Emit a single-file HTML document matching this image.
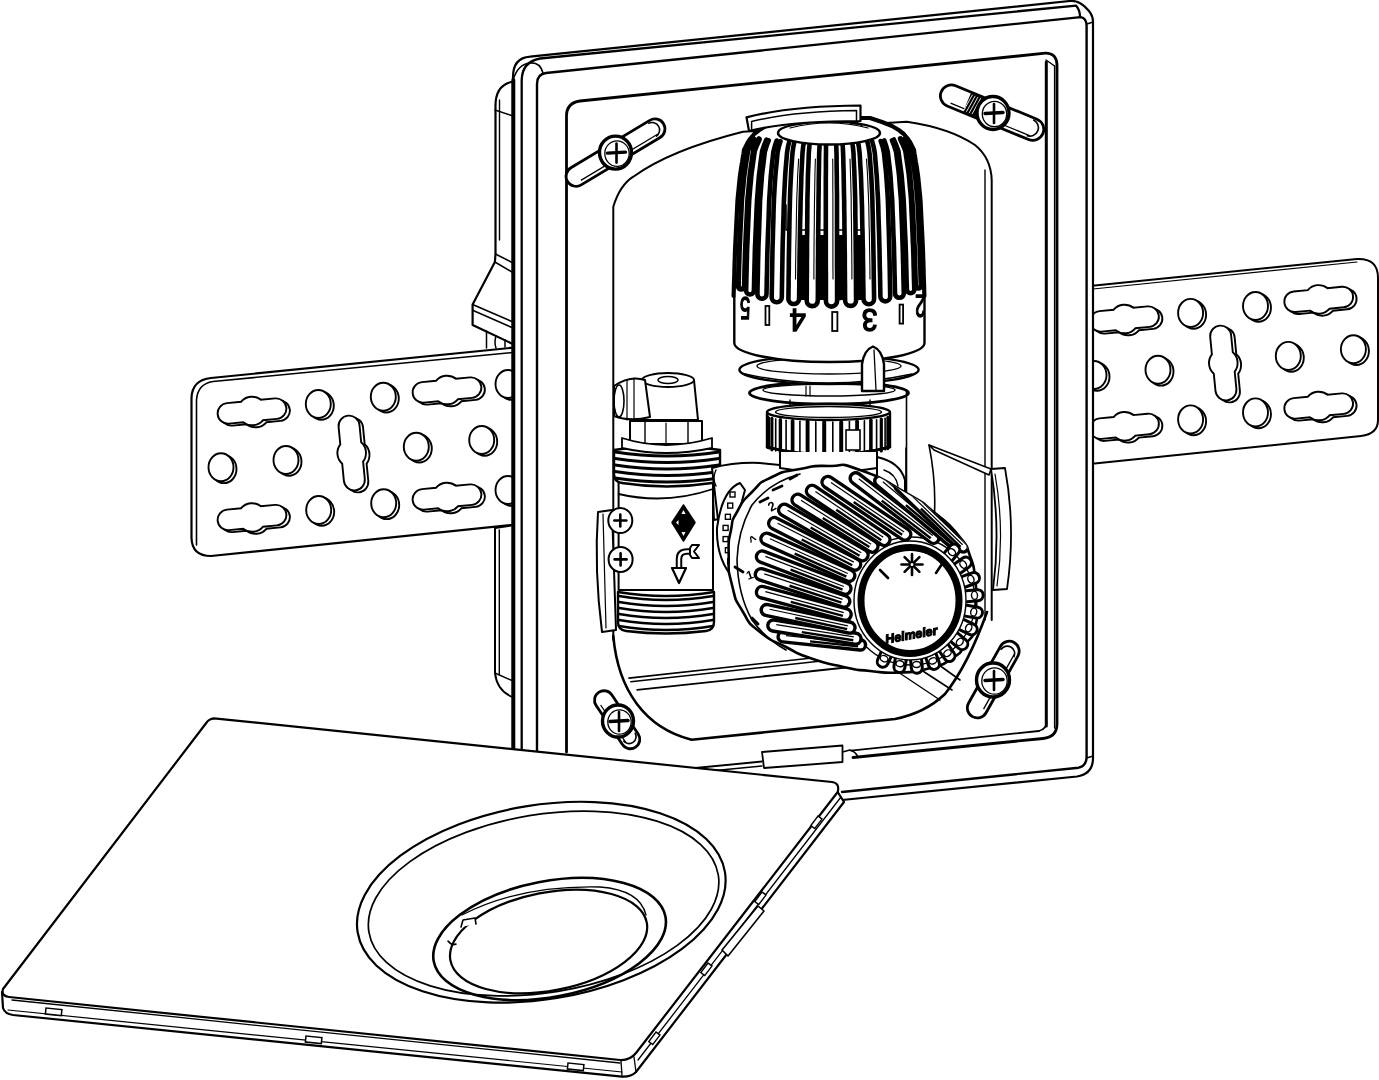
<!DOCTYPE html>
<html><head><meta charset="utf-8"><style>html,body{margin:0;padding:0;background:#fff;overflow:hidden}svg{display:block;will-change:transform}</style></head><body><svg width="1379" height="1080" viewBox="0 0 1379 1080"><path d="M530,346 L211,378 Q192,380 191.5,398 L191.5,538 Q192,556 211,556 L530,523 Z" fill="#fff" stroke="#000" stroke-width="2.2" stroke-linejoin="round" stroke-linecap="round" />
<path d="M513,352.5 L213,381.5 Q197.5,384 196.5,400 L196.5,545" fill="none" stroke="#000" stroke-width="1.6" stroke-linejoin="round" stroke-linecap="round" />
<ellipse cx="321.3" cy="405.8" rx="12.5" ry="14.0" fill="#fff" stroke="#000" stroke-width="1.9"/>
<ellipse cx="318.3" cy="404.0" rx="12.5" ry="14.0" fill="#fff" stroke="#000" stroke-width="1.9"/>
<ellipse cx="386.3" cy="398.5" rx="12.5" ry="14.0" fill="#fff" stroke="#000" stroke-width="1.9"/>
<ellipse cx="383.3" cy="396.7" rx="12.5" ry="14.0" fill="#fff" stroke="#000" stroke-width="1.9"/>
<ellipse cx="224.0" cy="469.1" rx="12.5" ry="14.0" fill="#fff" stroke="#000" stroke-width="1.9"/>
<ellipse cx="221.0" cy="467.3" rx="12.5" ry="14.0" fill="#fff" stroke="#000" stroke-width="1.9"/>
<ellipse cx="289.0" cy="461.8" rx="12.5" ry="14.0" fill="#fff" stroke="#000" stroke-width="1.9"/>
<ellipse cx="286.0" cy="460.0" rx="12.5" ry="14.0" fill="#fff" stroke="#000" stroke-width="1.9"/>
<ellipse cx="419.3" cy="448.5" rx="12.5" ry="14.0" fill="#fff" stroke="#000" stroke-width="1.9"/>
<ellipse cx="416.3" cy="446.7" rx="12.5" ry="14.0" fill="#fff" stroke="#000" stroke-width="1.9"/>
<ellipse cx="484.7" cy="441.8" rx="12.5" ry="14.0" fill="#fff" stroke="#000" stroke-width="1.9"/>
<ellipse cx="481.7" cy="440.0" rx="12.5" ry="14.0" fill="#fff" stroke="#000" stroke-width="1.9"/>
<ellipse cx="321.7" cy="511.8" rx="12.5" ry="14.0" fill="#fff" stroke="#000" stroke-width="1.9"/>
<ellipse cx="318.7" cy="510.0" rx="12.5" ry="14.0" fill="#fff" stroke="#000" stroke-width="1.9"/>
<ellipse cx="386.7" cy="505.1" rx="12.5" ry="14.0" fill="#fff" stroke="#000" stroke-width="1.9"/>
<ellipse cx="383.7" cy="503.3" rx="12.5" ry="14.0" fill="#fff" stroke="#000" stroke-width="1.9"/>
<ellipse cx="511.0" cy="385.8" rx="12.5" ry="14.0" fill="#fff" stroke="#000" stroke-width="1.9"/>
<ellipse cx="508.0" cy="384.0" rx="12.5" ry="14.0" fill="#fff" stroke="#000" stroke-width="1.9"/>
<ellipse cx="511.0" cy="491.8" rx="12.5" ry="14.0" fill="#fff" stroke="#000" stroke-width="1.9"/>
<ellipse cx="508.0" cy="490.0" rx="12.5" ry="14.0" fill="#fff" stroke="#000" stroke-width="1.9"/>
<g transform="translate(255.5 413.0) rotate(-5.6)"><path d="M-24.2,-10.3 L-9.92,-10.3 A14.3,14.3 0 0 1 9.92,-10.3 L24.2,-10.3 A10.3,10.3 0 0 1 24.2,10.3 L9.92,10.3 A14.3,14.3 0 0 1 -9.92,10.3 L-24.2,10.3 A10.3,10.3 0 0 1 -24.2,-10.3 Z" fill="#fff" stroke="#000" stroke-width="1.9"/></g>
<g transform="translate(252.0 411.0) rotate(-5.6)"><path d="M-24.2,-10.3 L-9.92,-10.3 A14.3,14.3 0 0 1 9.92,-10.3 L24.2,-10.3 A10.3,10.3 0 0 1 24.2,10.3 L9.92,10.3 A14.3,14.3 0 0 1 -9.92,10.3 L-24.2,10.3 A10.3,10.3 0 0 1 -24.2,-10.3 Z" fill="#fff" stroke="#000" stroke-width="1.9"/></g>
<g transform="translate(450.5 392.0) rotate(-5.6)"><path d="M-24.2,-10.3 L-9.92,-10.3 A14.3,14.3 0 0 1 9.92,-10.3 L24.2,-10.3 A10.3,10.3 0 0 1 24.2,10.3 L9.92,10.3 A14.3,14.3 0 0 1 -9.92,10.3 L-24.2,10.3 A10.3,10.3 0 0 1 -24.2,-10.3 Z" fill="#fff" stroke="#000" stroke-width="1.9"/></g>
<g transform="translate(447.0 390.0) rotate(-5.6)"><path d="M-24.2,-10.3 L-9.92,-10.3 A14.3,14.3 0 0 1 9.92,-10.3 L24.2,-10.3 A10.3,10.3 0 0 1 24.2,10.3 L9.92,10.3 A14.3,14.3 0 0 1 -9.92,10.3 L-24.2,10.3 A10.3,10.3 0 0 1 -24.2,-10.3 Z" fill="#fff" stroke="#000" stroke-width="1.9"/></g>
<g transform="translate(255.5 519.5) rotate(-5.6)"><path d="M-24.2,-10.3 L-9.92,-10.3 A14.3,14.3 0 0 1 9.92,-10.3 L24.2,-10.3 A10.3,10.3 0 0 1 24.2,10.3 L9.92,10.3 A14.3,14.3 0 0 1 -9.92,10.3 L-24.2,10.3 A10.3,10.3 0 0 1 -24.2,-10.3 Z" fill="#fff" stroke="#000" stroke-width="1.9"/></g>
<g transform="translate(252.0 517.5) rotate(-5.6)"><path d="M-24.2,-10.3 L-9.92,-10.3 A14.3,14.3 0 0 1 9.92,-10.3 L24.2,-10.3 A10.3,10.3 0 0 1 24.2,10.3 L9.92,10.3 A14.3,14.3 0 0 1 -9.92,10.3 L-24.2,10.3 A10.3,10.3 0 0 1 -24.2,-10.3 Z" fill="#fff" stroke="#000" stroke-width="1.9"/></g>
<g transform="translate(450.5 499.0) rotate(-5.6)"><path d="M-24.2,-10.3 L-9.92,-10.3 A14.3,14.3 0 0 1 9.92,-10.3 L24.2,-10.3 A10.3,10.3 0 0 1 24.2,10.3 L9.92,10.3 A14.3,14.3 0 0 1 -9.92,10.3 L-24.2,10.3 A10.3,10.3 0 0 1 -24.2,-10.3 Z" fill="#fff" stroke="#000" stroke-width="1.9"/></g>
<g transform="translate(447.0 497.0) rotate(-5.6)"><path d="M-24.2,-10.3 L-9.92,-10.3 A14.3,14.3 0 0 1 9.92,-10.3 L24.2,-10.3 A10.3,10.3 0 0 1 24.2,10.3 L9.92,10.3 A14.3,14.3 0 0 1 -9.92,10.3 L-24.2,10.3 A10.3,10.3 0 0 1 -24.2,-10.3 Z" fill="#fff" stroke="#000" stroke-width="1.9"/></g>
<g transform="translate(355.2 455.0) rotate(-5.6)"><path d="M-10.5,-27.0 L-10.5,-9.71 A14.3,14.3 0 0 0 -10.5,9.71 L-10.5,27.0 A10.5,10.5 0 0 0 10.5,27.0 L10.5,9.71 A14.3,14.3 0 0 0 10.5,-9.71 L10.5,-27.0 A10.5,10.5 0 0 0 -10.5,-27.0 Z" fill="#fff" stroke="#000" stroke-width="1.9"/></g>
<g transform="translate(351.7 453.0) rotate(-5.6)"><path d="M-10.5,-27.0 L-10.5,-9.71 A14.3,14.3 0 0 0 -10.5,9.71 L-10.5,27.0 A10.5,10.5 0 0 0 10.5,27.0 L10.5,9.71 A14.3,14.3 0 0 0 10.5,-9.71 L10.5,-27.0 A10.5,10.5 0 0 0 -10.5,-27.0 Z" fill="#fff" stroke="#000" stroke-width="1.9"/></g>
<path d="M1080,287 L1357,259 Q1378,258 1378,278 L1378,420 Q1378,434 1361,436 L1080,465 Z" fill="#fff" stroke="#000" stroke-width="2.0" stroke-linejoin="round" stroke-linecap="round" />
<line x1="1093.0" y1="289.0" x2="1357.0" y2="262.0" stroke="#000" stroke-width="1.2" stroke-linecap="round"/>
<ellipse cx="1193.6" cy="314.7" rx="12.5" ry="14.0" fill="#fff" stroke="#000" stroke-width="1.9"/>
<ellipse cx="1190.6" cy="312.9" rx="12.5" ry="14.0" fill="#fff" stroke="#000" stroke-width="1.9"/>
<ellipse cx="1258.5" cy="307.8" rx="12.5" ry="14.0" fill="#fff" stroke="#000" stroke-width="1.9"/>
<ellipse cx="1255.5" cy="306.0" rx="12.5" ry="14.0" fill="#fff" stroke="#000" stroke-width="1.9"/>
<ellipse cx="1097.0" cy="376.8" rx="12.5" ry="14.0" fill="#fff" stroke="#000" stroke-width="1.9"/>
<ellipse cx="1094.0" cy="375.0" rx="12.5" ry="14.0" fill="#fff" stroke="#000" stroke-width="1.9"/>
<ellipse cx="1161.0" cy="371.6" rx="12.5" ry="14.0" fill="#fff" stroke="#000" stroke-width="1.9"/>
<ellipse cx="1158.0" cy="369.8" rx="12.5" ry="14.0" fill="#fff" stroke="#000" stroke-width="1.9"/>
<ellipse cx="1291.3" cy="357.7" rx="12.5" ry="14.0" fill="#fff" stroke="#000" stroke-width="1.9"/>
<ellipse cx="1288.3" cy="355.9" rx="12.5" ry="14.0" fill="#fff" stroke="#000" stroke-width="1.9"/>
<ellipse cx="1356.4" cy="351.0" rx="12.5" ry="14.0" fill="#fff" stroke="#000" stroke-width="1.9"/>
<ellipse cx="1353.4" cy="349.2" rx="12.5" ry="14.0" fill="#fff" stroke="#000" stroke-width="1.9"/>
<ellipse cx="1193.6" cy="421.2" rx="12.5" ry="14.0" fill="#fff" stroke="#000" stroke-width="1.9"/>
<ellipse cx="1190.6" cy="419.4" rx="12.5" ry="14.0" fill="#fff" stroke="#000" stroke-width="1.9"/>
<ellipse cx="1258.5" cy="414.2" rx="12.5" ry="14.0" fill="#fff" stroke="#000" stroke-width="1.9"/>
<ellipse cx="1255.5" cy="412.4" rx="12.5" ry="14.0" fill="#fff" stroke="#000" stroke-width="1.9"/>
<g transform="translate(1128.0 321.0) rotate(-5.6)"><path d="M-24.2,-10.3 L-9.92,-10.3 A14.3,14.3 0 0 1 9.92,-10.3 L24.2,-10.3 A10.3,10.3 0 0 1 24.2,10.3 L9.92,10.3 A14.3,14.3 0 0 1 -9.92,10.3 L-24.2,10.3 A10.3,10.3 0 0 1 -24.2,-10.3 Z" fill="#fff" stroke="#000" stroke-width="1.9"/></g>
<g transform="translate(1124.5 319.0) rotate(-5.6)"><path d="M-24.2,-10.3 L-9.92,-10.3 A14.3,14.3 0 0 1 9.92,-10.3 L24.2,-10.3 A10.3,10.3 0 0 1 24.2,10.3 L9.92,10.3 A14.3,14.3 0 0 1 -9.92,10.3 L-24.2,10.3 A10.3,10.3 0 0 1 -24.2,-10.3 Z" fill="#fff" stroke="#000" stroke-width="1.9"/></g>
<g transform="translate(1322.2 301.4) rotate(-5.6)"><path d="M-24.2,-10.3 L-9.92,-10.3 A14.3,14.3 0 0 1 9.92,-10.3 L24.2,-10.3 A10.3,10.3 0 0 1 24.2,10.3 L9.92,10.3 A14.3,14.3 0 0 1 -9.92,10.3 L-24.2,10.3 A10.3,10.3 0 0 1 -24.2,-10.3 Z" fill="#fff" stroke="#000" stroke-width="1.9"/></g>
<g transform="translate(1318.7 299.4) rotate(-5.6)"><path d="M-24.2,-10.3 L-9.92,-10.3 A14.3,14.3 0 0 1 9.92,-10.3 L24.2,-10.3 A10.3,10.3 0 0 1 24.2,10.3 L9.92,10.3 A14.3,14.3 0 0 1 -9.92,10.3 L-24.2,10.3 A10.3,10.3 0 0 1 -24.2,-10.3 Z" fill="#fff" stroke="#000" stroke-width="1.9"/></g>
<g transform="translate(1128.0 428.3) rotate(-5.6)"><path d="M-24.2,-10.3 L-9.92,-10.3 A14.3,14.3 0 0 1 9.92,-10.3 L24.2,-10.3 A10.3,10.3 0 0 1 24.2,10.3 L9.92,10.3 A14.3,14.3 0 0 1 -9.92,10.3 L-24.2,10.3 A10.3,10.3 0 0 1 -24.2,-10.3 Z" fill="#fff" stroke="#000" stroke-width="1.9"/></g>
<g transform="translate(1124.5 426.3) rotate(-5.6)"><path d="M-24.2,-10.3 L-9.92,-10.3 A14.3,14.3 0 0 1 9.92,-10.3 L24.2,-10.3 A10.3,10.3 0 0 1 24.2,10.3 L9.92,10.3 A14.3,14.3 0 0 1 -9.92,10.3 L-24.2,10.3 A10.3,10.3 0 0 1 -24.2,-10.3 Z" fill="#fff" stroke="#000" stroke-width="1.9"/></g>
<g transform="translate(1322.2 408.0) rotate(-5.6)"><path d="M-24.2,-10.3 L-9.92,-10.3 A14.3,14.3 0 0 1 9.92,-10.3 L24.2,-10.3 A10.3,10.3 0 0 1 24.2,10.3 L9.92,10.3 A14.3,14.3 0 0 1 -9.92,10.3 L-24.2,10.3 A10.3,10.3 0 0 1 -24.2,-10.3 Z" fill="#fff" stroke="#000" stroke-width="1.9"/></g>
<g transform="translate(1318.7 406.0) rotate(-5.6)"><path d="M-24.2,-10.3 L-9.92,-10.3 A14.3,14.3 0 0 1 9.92,-10.3 L24.2,-10.3 A10.3,10.3 0 0 1 24.2,10.3 L9.92,10.3 A14.3,14.3 0 0 1 -9.92,10.3 L-24.2,10.3 A10.3,10.3 0 0 1 -24.2,-10.3 Z" fill="#fff" stroke="#000" stroke-width="1.9"/></g>
<g transform="translate(1226.8 365.0) rotate(-5.6)"><path d="M-10.5,-27.0 L-10.5,-9.71 A14.3,14.3 0 0 0 -10.5,9.71 L-10.5,27.0 A10.5,10.5 0 0 0 10.5,27.0 L10.5,9.71 A14.3,14.3 0 0 0 10.5,-9.71 L10.5,-27.0 A10.5,10.5 0 0 0 -10.5,-27.0 Z" fill="#fff" stroke="#000" stroke-width="1.9"/></g>
<g transform="translate(1223.3 363.0) rotate(-5.6)"><path d="M-10.5,-27.0 L-10.5,-9.71 A14.3,14.3 0 0 0 -10.5,9.71 L-10.5,27.0 A10.5,10.5 0 0 0 10.5,27.0 L10.5,9.71 A14.3,14.3 0 0 0 10.5,-9.71 L10.5,-27.0 A10.5,10.5 0 0 0 -10.5,-27.0 Z" fill="#fff" stroke="#000" stroke-width="1.9"/></g>
<path d="M515,82 L511,82 Q495,86 495.5,107 L495.5,254 L494.9,262 L472.6,304.6 L472.6,325 L515,345 Z" fill="#fff" stroke="#000" stroke-width="2.2" stroke-linejoin="round" stroke-linecap="round" />
<line x1="499.5" y1="100.0" x2="499.5" y2="240.0" stroke="#000" stroke-width="1.4" stroke-linecap="round"/>
<line x1="495.0" y1="110.0" x2="513.0" y2="116.0" stroke="#000" stroke-width="1.4" stroke-linecap="round"/>
<line x1="495.5" y1="254.0" x2="512.0" y2="262.5" stroke="#000" stroke-width="1.6" stroke-linecap="round"/>
<line x1="494.9" y1="262.0" x2="512.0" y2="272.0" stroke="#000" stroke-width="1.6" stroke-linecap="round"/>
<line x1="472.6" y1="304.6" x2="512.0" y2="321.5" stroke="#000" stroke-width="1.6" stroke-linecap="round"/>
<line x1="473.2" y1="310.6" x2="512.0" y2="327.5" stroke="#000" stroke-width="1.6" stroke-linecap="round"/>
<path d="M486.5,331 L486.5,348 M496,336 Q494,342 496,348 M505,340 L505,347" fill="none" stroke="#000" stroke-width="1.5" stroke-linejoin="round" stroke-linecap="round" />
<path d="M515,525 L495,528 L495,673 Q497,692 515,698 Z" fill="#fff" stroke="#000" stroke-width="2.0" stroke-linejoin="round" stroke-linecap="round" />
<line x1="499.3" y1="530.0" x2="499.3" y2="675.0" stroke="#000" stroke-width="1.4" stroke-linecap="round"/>
<line x1="495.0" y1="673.0" x2="513.0" y2="681.0" stroke="#000" stroke-width="1.4" stroke-linecap="round"/>
<path d="M513,77 Q513,58 530,56.7 L1070,1 Q1080,0 1089,11 Q1093,16 1093,22 L1093,758 Q1093,774 1077,776.5 L842,800 L513,805 Z" fill="#fff" stroke="#000" stroke-width="2.2" stroke-linejoin="round" stroke-linecap="round" />
<path d="M521.7,752 L521.7,80 Q522,62 540,58.5 L1076,5.6 Q1080,10 1080,17" fill="none" stroke="#000" stroke-width="2.3" stroke-linejoin="round" stroke-linecap="round" />
<line x1="513.3" y1="80.0" x2="513.3" y2="752.0" stroke="#000" stroke-width="4.0" stroke-linecap="round"/>
<path d="M513,80 Q518,64 530,63 Q540,62 543,73" fill="none" stroke="#000" stroke-width="1.6" stroke-linejoin="round" stroke-linecap="round" />
<path d="M537,752 L537,84 Q537,74 546,73 L1080.6,17.1 Q1086.6,18 1086.6,26 L1086.6,758 Q1086,766 1078.6,767.7 L842,792" fill="none" stroke="#000" stroke-width="2.4" stroke-linejoin="round" stroke-linecap="round" />
<line x1="1086.6" y1="758.0" x2="1093.0" y2="756.0" stroke="#000" stroke-width="1.4" stroke-linecap="round"/>
<line x1="1087.0" y1="24.0" x2="1093.0" y2="22.0" stroke="#000" stroke-width="1.4" stroke-linecap="round"/>
<path d="M566.5,752 L566.5,116 Q566.5,103 580,101 L1045.4,53.2 Q1057,53 1057,66 L1057,724 Q1057,737 1043,738.5 L853,757.5" fill="none" stroke="#000" stroke-width="2.8" stroke-linejoin="round" stroke-linecap="round" />
<line x1="1046.3" y1="62.0" x2="1046.3" y2="726.0" stroke="#000" stroke-width="3.0" stroke-linecap="round"/>
<line x1="1054.6" y1="66.0" x2="1054.6" y2="728.0" stroke="#000" stroke-width="1.4" stroke-linecap="round"/>
<path d="M1046,60 L1054.6,66" fill="none" stroke="#000" stroke-width="1.4" stroke-linejoin="round" stroke-linecap="round" />
<line x1="851.0" y1="750.6" x2="1038.9" y2="731.0" stroke="#000" stroke-width="1.8" stroke-linecap="round"/>
<path d="M1038.9,731 Q1046.5,729 1046.5,722" fill="none" stroke="#000" stroke-width="1.8" stroke-linejoin="round" stroke-linecap="round" />
<path d="M613.3,640 L613.3,206.7 Q620,185 633.3,176.7 Q670,150 743,131.7 L906.7,121.7 Q950,128 975,145 Q991,158 991.7,180 L991.7,620" fill="none" stroke="#000" stroke-width="2.0" stroke-linejoin="round" stroke-linecap="round" />
<line x1="985.0" y1="170.0" x2="985.0" y2="620.0" stroke="#000" stroke-width="1.4" stroke-linecap="round"/>
<path d="M613.3,636 C618,690 645,728 691.6,739.7 L895,719 Q925,713 945,694 Q968,665 987,612" fill="none" stroke="#000" stroke-width="2.6" stroke-linejoin="round" stroke-linecap="round" />
<line x1="912.0" y1="664.0" x2="952.0" y2="690.0" stroke="#000" stroke-width="1.6" stroke-linecap="round"/>
<line x1="925.0" y1="655.0" x2="960.0" y2="680.0" stroke="#000" stroke-width="1.6" stroke-linecap="round"/>
<line x1="898.0" y1="672.0" x2="940.0" y2="700.0" stroke="#000" stroke-width="1.4" stroke-linecap="round"/>
<line x1="629.0" y1="678.1" x2="830.0" y2="656.0" stroke="#000" stroke-width="1.6" stroke-linecap="round"/>
<line x1="630.8" y1="681.7" x2="835.0" y2="659.5" stroke="#000" stroke-width="1.6" stroke-linecap="round"/>
<line x1="637.2" y1="689.9" x2="860.0" y2="666.0" stroke="#000" stroke-width="1.8" stroke-linecap="round"/>
<path d="M712,470 Q740,462 775,468 L780,515 Q745,512 714,520 Z" fill="#fff" stroke="#000" stroke-width="2.0" stroke-linejoin="round" stroke-linecap="round" />
<path d="M618.6,482 L618.6,590 L713,590 L713,482 Z" fill="#fff" stroke="#000" stroke-width="2.0" stroke-linejoin="round" stroke-linecap="round" />
<path d="M618.6,494 Q666,505 713,489" fill="none" stroke="#000" stroke-width="1.8" stroke-linejoin="round" stroke-linecap="round" />
<path d="M618,592 Q666,600 714,592 L714,622 Q714,630 706,631 Q666,636 626,631 Q618,630 618,622 Z" fill="#fff" stroke="#000" stroke-width="2.4" stroke-linejoin="round" stroke-linecap="round" />
<path d="M619,596 Q666,604 713,596" fill="none" stroke="#000" stroke-width="2.6" stroke-linejoin="round" stroke-linecap="round" />
<path d="M619,602 Q666,610 713,602" fill="none" stroke="#000" stroke-width="2.6" stroke-linejoin="round" stroke-linecap="round" />
<path d="M619,608 Q666,616 713,608" fill="none" stroke="#000" stroke-width="2.6" stroke-linejoin="round" stroke-linecap="round" />
<path d="M619,614 Q666,622 713,614" fill="none" stroke="#000" stroke-width="2.6" stroke-linejoin="round" stroke-linecap="round" />
<path d="M619,620 Q666,628 713,620" fill="none" stroke="#000" stroke-width="2.6" stroke-linejoin="round" stroke-linecap="round" />
<path d="M619,626 Q666,634 713,626" fill="none" stroke="#000" stroke-width="2.6" stroke-linejoin="round" stroke-linecap="round" />
<path d="M614,450 Q667,442 720,450 L720,474 Q720,482 712,483 Q667,490 622,483 Q614,482 614,474 Z" fill="#fff" stroke="#000" stroke-width="2.4" stroke-linejoin="round" stroke-linecap="round" />
<path d="M615,452.0 Q667,460.0 719,452.0" fill="none" stroke="#000" stroke-width="2.8" stroke-linejoin="round" stroke-linecap="round" />
<path d="M615,458.5 Q667,466.5 719,458.5" fill="none" stroke="#000" stroke-width="2.8" stroke-linejoin="round" stroke-linecap="round" />
<path d="M615,465.0 Q667,473.0 719,465.0" fill="none" stroke="#000" stroke-width="2.8" stroke-linejoin="round" stroke-linecap="round" />
<path d="M615,471.5 Q667,479.5 719,471.5" fill="none" stroke="#000" stroke-width="2.8" stroke-linejoin="round" stroke-linecap="round" />
<path d="M615,478.0 Q667,486.0 719,478.0" fill="none" stroke="#000" stroke-width="2.8" stroke-linejoin="round" stroke-linecap="round" />
<path d="M630,421 L702,421 L702,444 L630,444 Z" fill="#fff" stroke="#000" stroke-width="2.0" stroke-linejoin="round" stroke-linecap="round" />
<line x1="645.0" y1="421.0" x2="645.0" y2="444.0" stroke="#000" stroke-width="1.4" stroke-linecap="round"/>
<line x1="688.0" y1="421.0" x2="688.0" y2="444.0" stroke="#000" stroke-width="1.4" stroke-linecap="round"/>
<line x1="666.0" y1="423.0" x2="666.0" y2="444.0" stroke="#000" stroke-width="1.2" stroke-linecap="round"/>
<path d="M622,438 Q666,452 712,438 L712,448 Q666,458 622,448 Z" fill="#fff" stroke="#000" stroke-width="1.8" stroke-linejoin="round" stroke-linecap="round" />
<path d="M642,380 Q668,370 694,380 L698,420 L638,420 Z" fill="#fff" stroke="#000" stroke-width="2.0" stroke-linejoin="round" stroke-linecap="round" />
<ellipse cx="668.0" cy="380.0" rx="26.0" ry="7.0" fill="#fff" stroke="#000" stroke-width="1.8"/>
<ellipse cx="668.0" cy="380.0" rx="10.0" ry="3.5" fill="#fff" stroke="#000" stroke-width="1.4"/>
<path d="M614,386 Q630,375 645,380 L650,417 Q630,422 614,416 Z" fill="#fff" stroke="#000" stroke-width="2.0" stroke-linejoin="round" stroke-linecap="round" />
<ellipse cx="619.0" cy="401.0" rx="5.0" ry="16.0" fill="none" stroke="#000" stroke-width="1.6"/>
<line x1="627.0" y1="380.0" x2="627.0" y2="420.0" stroke="#000" stroke-width="1.2" stroke-linecap="round"/>
<line x1="634.0" y1="378.0" x2="634.0" y2="420.0" stroke="#000" stroke-width="1.2" stroke-linecap="round"/>
<path d="M683.5,505 L695,522.5 L683.5,541 L672,522.5 Z" fill="#000" stroke="#000" stroke-width="1.5" stroke-linejoin="round" stroke-linecap="round" />
<path d="M683.5,510 L685.5,514 L681.5,514 Z M683.5,536 L685.5,532 L681.5,532 Z M676,522.5 L678.5,520 L678.5,525 Z" fill="#fff"/>
<path d="M679,570 L679,559 Q679,551.5 687,551.5 L695,551.5" fill="none" stroke="#000" stroke-width="6.5" stroke-linecap="butt"/>
<path d="M679,570 L679,559 Q679,551.5 687,551.5 L695,551.5" fill="none" stroke="#fff" stroke-width="2.5" stroke-linecap="butt"/>
<path d="M692,545 L699,545 L694,551.5 L699,558 L692,558 L690,555 L690,548 Z" fill="#fff" stroke="#000" stroke-width="2" stroke-linejoin="round" stroke-linecap="round" />
<path d="M672,568 L686,568 L679,583 Z" fill="#fff" stroke="#000" stroke-width="2.2" stroke-linejoin="round" stroke-linecap="round" />
<path d="M598,512 L612,510 L616,630 L602,632 Q594,570 598,512 Z" fill="#fff" stroke="#000" stroke-width="2.0" stroke-linejoin="round" stroke-linecap="round" />
<line x1="603.0" y1="514.0" x2="606.0" y2="628.0" stroke="#000" stroke-width="1.2" stroke-linecap="round"/>
<ellipse cx="620.3" cy="520.5" rx="12.0" ry="12.5" fill="#fff" stroke="#000" stroke-width="2"/>
<line x1="614.3" y1="520.5" x2="626.3" y2="520.5" stroke="#000" stroke-width="2.6" stroke-linecap="round"/>
<line x1="620.3" y1="514.5" x2="620.3" y2="526.5" stroke="#000" stroke-width="2.6" stroke-linecap="round"/>
<ellipse cx="620.6" cy="559.4" rx="12.0" ry="12.5" fill="#fff" stroke="#000" stroke-width="2"/>
<line x1="614.6" y1="559.4" x2="626.6" y2="559.4" stroke="#000" stroke-width="2.6" stroke-linecap="round"/>
<line x1="620.6" y1="553.4" x2="620.6" y2="565.4" stroke="#000" stroke-width="2.6" stroke-linecap="round"/>
<ellipse cx="829.0" cy="393.0" rx="79.5" ry="11.0" fill="#fff" stroke="#000" stroke-width="2.8"/>
<ellipse cx="829.0" cy="390.0" rx="66.0" ry="6.0" fill="none" stroke="#000" stroke-width="1.4"/>
<line x1="806.0" y1="386.0" x2="806.0" y2="396.0" stroke="#000" stroke-width="1.2" stroke-linecap="round"/>
<line x1="810.0" y1="386.0" x2="810.0" y2="396.0" stroke="#000" stroke-width="1.2" stroke-linecap="round"/>
<ellipse cx="829.0" cy="369.7" rx="89.6" ry="14.3" fill="#fff" stroke="#000" stroke-width="2.4"/>
<ellipse cx="829.0" cy="366.0" rx="72.0" ry="8.0" fill="none" stroke="#000" stroke-width="1.4"/>
<path d="M745,374 Q829,392 912,374" fill="none" stroke="#000" stroke-width="1.4" stroke-linejoin="round" stroke-linecap="round" />
<path d="M734.3,290 L734.3,343 A95,19 0 0 0 924.5,343 L924.5,290 Z" fill="#fff"/>
<path d="M734.3,290 L734.3,343 A95,19 0 0 0 924.5,343 L924.5,290" fill="none" stroke="#000" stroke-width="2.4" stroke-linejoin="round" stroke-linecap="round" />
<path d="M733.6,296.0 L733.8,290.0 L733.9,286.0 L734.0,282.0 L734.2,278.0 L734.3,274.0 L734.4,270.0 L734.5,266.0 L734.6,262.0 L734.8,258.0 L734.9,254.0 L735.0,250.0 L735.2,246.0 L735.4,242.0 L735.6,238.0 L735.8,234.0 L736.0,230.0 L736.2,226.0 L736.4,222.0 L736.6,218.0 L736.8,214.0 L737.0,210.0 L737.2,206.0 L737.4,202.0 L737.7,198.0 L738.1,194.0 L738.5,190.0 L738.9,186.0 L739.3,182.0 L739.7,178.0 L740.2,174.0 L740.8,170.0 L741.4,166.0 L742.1,162.0 L742.7,158.0 L743.4,154.0 L744.0,150.0 L746.0,146.0 L748.0,142.0 L750.8,138.0 L754.2,134.0 L759.3,130.0 L766.0,126.0 L776.0,122.0 L788.0,118.0 L870.0,118.0 L882.0,122.0 L892.0,126.0 L898.7,130.0 L903.8,134.0 L907.2,138.0 L910.0,142.0 L912.0,146.0 L914.0,150.0 L914.6,154.0 L915.3,158.0 L915.9,162.0 L916.6,166.0 L917.2,170.0 L917.8,174.0 L918.3,178.0 L918.7,182.0 L919.1,186.0 L919.5,190.0 L919.9,194.0 L920.3,198.0 L920.6,202.0 L920.8,206.0 L921.0,210.0 L921.2,214.0 L921.4,218.0 L921.6,222.0 L921.8,226.0 L922.0,230.0 L922.2,234.0 L922.4,238.0 L922.6,242.0 L922.8,246.0 L923.0,250.0 L923.1,254.0 L923.2,258.0 L923.4,262.0 L923.5,266.0 L923.6,270.0 L923.7,274.0 L923.8,278.0 L924.0,282.0 L924.1,286.0 L924.2,290.0 L924.4,296.0 Z" fill="#fff"/>
<path d="M733.6,296.0 L733.8,290.0 L733.9,286.0 L734.0,282.0 L734.2,278.0 L734.3,274.0 L734.4,270.0 L734.5,266.0 L734.6,262.0 L734.8,258.0 L734.9,254.0 L735.0,250.0 L735.2,246.0 L735.4,242.0 L735.6,238.0 L735.8,234.0 L736.0,230.0 L736.2,226.0 L736.4,222.0 L736.6,218.0 L736.8,214.0 L737.0,210.0 L737.2,206.0 L737.4,202.0 L737.7,198.0 L738.1,194.0 L738.5,190.0 L738.9,186.0 L739.3,182.0 L739.7,178.0 L740.2,174.0 L740.8,170.0 L741.4,166.0 L742.1,162.0 L742.7,158.0 L743.4,154.0 L744.0,150.0 L746.0,146.0 L748.0,142.0 L750.8,138.0 L754.2,134.0 L759.3,130.0 L766.0,126.0 L776.0,122.0 L788.0,118.0 L870.0,118.0 L882.0,122.0 L892.0,126.0 L898.7,130.0 L903.8,134.0 L907.2,138.0 L910.0,142.0 L912.0,146.0 L914.0,150.0 L914.6,154.0 L915.3,158.0 L915.9,162.0 L916.6,166.0 L917.2,170.0 L917.8,174.0 L918.3,178.0 L918.7,182.0 L919.1,186.0 L919.5,190.0 L919.9,194.0 L920.3,198.0 L920.6,202.0 L920.8,206.0 L921.0,210.0 L921.2,214.0 L921.4,218.0 L921.6,222.0 L921.8,226.0 L922.0,230.0 L922.2,234.0 L922.4,238.0 L922.6,242.0 L922.8,246.0 L923.0,250.0 L923.1,254.0 L923.2,258.0 L923.4,262.0 L923.5,266.0 L923.6,270.0 L923.7,274.0 L923.8,278.0 L924.0,282.0 L924.1,286.0 L924.2,290.0 L924.4,296.0" fill="none" stroke="#000" stroke-width="4.2" stroke-linejoin="round" stroke-linecap="round" />
<path d="M790,235 L870,235 L872,300 L788,300 Z" fill="#000"/>
<path d="M812,168 L812,300 M818,168 L818,300" fill="none" stroke="#000" stroke-width="1.4" stroke-linejoin="round" stroke-linecap="round" />
<path d="M786,205 L786,230 L872,230 L872,205" fill="none" stroke="#000" stroke-width="1.6" stroke-linejoin="round" stroke-linecap="round" />
<path d="M840,240 L840,300 M846,240 L846,300" fill="none" stroke="#000" stroke-width="1.2" stroke-linejoin="round" stroke-linecap="round" />
<path d="M900.4,138.6 L903.4,144.0 L906.1,150.0 L907.0,156.0 L907.9,162.0 L908.8,168.0 L909.7,174.0 L910.3,180.0 L910.8,186.0 L911.4,192.0 L911.9,198.0 L912.3,204.0 L912.6,210.0 L912.9,216.0 L913.2,222.0 L913.5,228.0 L913.7,234.0 L914.0,240.0 L914.3,246.0 L914.6,252.0 L914.7,258.0 L914.9,264.0 L915.1,270.0 L915.2,276.0 L915.5,285.4 A2.8,2.8 0 0 0 921.1,285.4 L921.1,285.4 L920.8,276.0 L920.7,270.0 L920.5,264.0 L920.3,258.0 L920.1,252.0 L919.9,246.0 L919.6,240.0 L919.3,234.0 L919.0,228.0 L918.8,222.0 L918.5,216.0 L918.2,210.0 L917.9,204.0 L917.5,198.0 L916.9,192.0 L916.4,186.0 L915.8,180.0 L915.1,174.0 L914.2,168.0 L913.2,162.0 L912.3,156.0 L911.4,150.0 L908.4,144.0 L905.2,138.6" fill="#fff" stroke="#000" stroke-width="5.199999999999999" stroke-linejoin="round" stroke-linecap="round" />
<path d="M753.7,138.8 L750.8,144.0 L747.9,150.0 L747.0,156.0 L746.0,162.0 L745.1,168.0 L744.2,174.0 L743.5,180.0 L743.0,186.0 L742.4,192.0 L741.8,198.0 L741.4,204.0 L741.2,210.0 L740.9,216.0 L740.6,222.0 L740.3,228.0 L740.0,234.0 L739.8,240.0 L739.5,246.0 L739.2,252.0 L739.1,258.0 L738.9,264.0 L738.7,270.0 L738.6,276.0 L738.3,286.5 A3.1,3.1 0 0 0 744.4,286.5 L744.4,286.5 L744.7,276.0 L744.8,270.0 L745.0,264.0 L745.2,258.0 L745.3,252.0 L745.6,246.0 L745.9,240.0 L746.1,234.0 L746.4,228.0 L746.7,222.0 L747.0,216.0 L747.3,210.0 L747.5,204.0 L747.9,198.0 L748.5,192.0 L749.0,186.0 L749.5,180.0 L750.1,174.0 L751.0,168.0 L751.9,162.0 L752.7,156.0 L753.6,150.0 L756.3,144.0 L759.0,138.8" fill="#fff" stroke="#000" stroke-width="5.199999999999999" stroke-linejoin="round" stroke-linecap="round" />
<path d="M893.8,139.5 L896.2,145.0 L898.4,151.0 L899.2,157.0 L900.0,163.0 L900.8,169.0 L901.6,175.0 L902.1,181.0 L902.6,187.0 L903.1,193.0 L903.6,199.0 L903.9,205.0 L904.2,211.0 L904.4,217.0 L904.7,223.0 L904.9,229.0 L905.2,235.0 L905.5,241.0 L905.7,247.0 L905.9,253.0 L906.1,259.0 L906.2,265.0 L906.4,271.0 L906.5,277.0 L906.7,283.0 L906.9,289.6 A3.7,3.7 0 0 0 914.3,289.6 L914.3,289.6 L914.1,283.0 L913.9,277.0 L913.8,271.0 L913.6,265.0 L913.5,259.0 L913.3,253.0 L913.1,247.0 L912.8,241.0 L912.6,235.0 L912.3,229.0 L912.1,223.0 L911.8,217.0 L911.5,211.0 L911.3,205.0 L911.0,199.0 L910.5,193.0 L909.9,187.0 L909.4,181.0 L908.8,175.0 L908.0,169.0 L907.1,163.0 L906.2,157.0 L905.3,151.0 L902.9,145.0 L900.3,139.5" fill="#fff" stroke="#000" stroke-width="4.6" stroke-linejoin="round" stroke-linecap="round" />
<path d="M759.5,139.7 L757.1,145.0 L754.8,151.0 L753.9,157.0 L753.1,163.0 L752.2,169.0 L751.4,175.0 L750.9,181.0 L750.3,187.0 L749.8,193.0 L749.3,199.0 L749.0,205.0 L748.7,211.0 L748.5,217.0 L748.2,223.0 L748.0,229.0 L747.7,235.0 L747.5,241.0 L747.2,247.0 L747.0,253.0 L746.9,259.0 L746.7,265.0 L746.6,271.0 L746.4,277.0 L746.3,283.0 L746.1,290.6 A3.9,3.9 0 0 0 753.9,290.6 L753.9,290.6 L754.1,283.0 L754.2,277.0 L754.4,271.0 L754.5,265.0 L754.7,259.0 L754.8,253.0 L755.0,247.0 L755.3,241.0 L755.5,235.0 L755.8,229.0 L756.0,223.0 L756.3,217.0 L756.5,211.0 L756.8,205.0 L757.1,199.0 L757.6,193.0 L758.0,187.0 L758.5,181.0 L759.0,175.0 L759.8,169.0 L760.5,163.0 L761.3,157.0 L762.1,151.0 L764.2,145.0 L766.4,139.7" fill="#fff" stroke="#000" stroke-width="4.6" stroke-linejoin="round" stroke-linecap="round" />
<path d="M884.2,140.3 L886.2,146.0 L887.8,152.0 L888.5,158.0 L889.2,164.0 L889.9,170.0 L890.5,176.0 L890.9,182.0 L891.3,188.0 L891.7,194.0 L892.2,200.0 L892.4,206.0 L892.6,212.0 L892.9,218.0 L893.1,224.0 L893.3,230.0 L893.5,236.0 L893.8,242.0 L894.0,248.0 L894.1,254.0 L894.3,260.0 L894.4,266.0 L894.5,272.0 L894.7,278.0 L894.8,284.0 L895.0,293.4 A4.4,4.4 0 0 0 903.8,293.4 L903.8,293.4 L903.6,284.0 L903.4,278.0 L903.3,272.0 L903.2,266.0 L903.0,260.0 L902.9,254.0 L902.7,248.0 L902.5,242.0 L902.3,236.0 L902.1,230.0 L901.9,224.0 L901.6,218.0 L901.4,212.0 L901.2,206.0 L901.0,200.0 L900.5,194.0 L900.0,188.0 L899.5,182.0 L899.1,176.0 L898.4,170.0 L897.6,164.0 L896.8,158.0 L896.1,152.0 L894.2,146.0 L892.0,140.3" fill="#fff" stroke="#000" stroke-width="4.6" stroke-linejoin="round" stroke-linecap="round" />
<path d="M768.7,140.5 L766.6,146.0 L764.8,152.0 L764.1,158.0 L763.4,164.0 L762.6,170.0 L761.9,176.0 L761.5,182.0 L761.0,188.0 L760.6,194.0 L760.1,200.0 L759.9,206.0 L759.7,212.0 L759.5,218.0 L759.3,224.0 L759.1,230.0 L758.9,236.0 L758.6,242.0 L758.4,248.0 L758.3,254.0 L758.1,260.0 L758.0,266.0 L757.9,272.0 L757.8,278.0 L757.6,284.0 L757.4,294.2 A4.5,4.5 0 0 0 766.5,294.2 L766.5,294.2 L766.7,284.0 L766.8,278.0 L767.0,272.0 L767.1,266.0 L767.2,260.0 L767.3,254.0 L767.5,248.0 L767.7,242.0 L767.9,236.0 L768.1,230.0 L768.4,224.0 L768.6,218.0 L768.8,212.0 L769.0,206.0 L769.2,200.0 L769.6,194.0 L770.0,188.0 L770.4,182.0 L770.8,176.0 L771.4,170.0 L772.0,164.0 L772.7,158.0 L773.3,152.0 L774.8,146.0 L776.7,140.5" fill="#fff" stroke="#000" stroke-width="4.6" stroke-linejoin="round" stroke-linecap="round" />
<path d="M872.1,141.0 L873.7,147.0 L874.8,153.0 L875.3,159.0 L875.8,165.0 L876.3,171.0 L876.8,177.0 L877.1,183.0 L877.4,189.0 L877.8,195.0 L878.1,201.0 L878.3,207.0 L878.4,213.0 L878.6,219.0 L878.8,225.0 L879.0,231.0 L879.2,237.0 L879.3,243.0 L879.5,249.0 L879.6,255.0 L879.7,261.0 L879.8,267.0 L880.0,273.0 L880.1,279.0 L880.2,285.0 L880.3,291.0 L880.4,296.5 A4.9,4.9 0 0 0 890.2,296.5 L890.2,296.5 L890.1,291.0 L890.0,285.0 L889.9,279.0 L889.8,273.0 L889.7,267.0 L889.6,261.0 L889.4,255.0 L889.3,249.0 L889.1,243.0 L889.0,237.0 L888.8,231.0 L888.6,225.0 L888.4,219.0 L888.3,213.0 L888.1,207.0 L887.9,201.0 L887.6,195.0 L887.2,189.0 L886.8,183.0 L886.4,177.0 L885.9,171.0 L885.2,165.0 L884.6,159.0 L884.0,153.0 L882.7,147.0 L880.7,141.0" fill="#fff" stroke="#000" stroke-width="4.6" stroke-linejoin="round" stroke-linecap="round" />
<path d="M780.5,141.2 L778.7,147.0 L777.5,153.0 L777.0,159.0 L776.4,165.0 L775.8,171.0 L775.3,177.0 L774.9,183.0 L774.5,189.0 L774.2,195.0 L773.9,201.0 L773.7,207.0 L773.5,213.0 L773.4,219.0 L773.2,225.0 L773.0,231.0 L772.9,237.0 L772.7,243.0 L772.5,249.0 L772.4,255.0 L772.3,261.0 L772.2,267.0 L772.1,273.0 L772.0,279.0 L771.9,285.0 L771.8,291.0 L771.7,297.2 A5.0,5.0 0 0 0 781.8,297.2 L781.8,297.2 L781.9,291.0 L782.0,285.0 L782.1,279.0 L782.2,273.0 L782.3,267.0 L782.4,261.0 L782.5,255.0 L782.6,249.0 L782.7,243.0 L782.9,237.0 L783.1,231.0 L783.2,225.0 L783.4,219.0 L783.6,213.0 L783.7,207.0 L783.9,201.0 L784.2,195.0 L784.5,189.0 L784.8,183.0 L785.1,177.0 L785.5,171.0 L786.0,165.0 L786.5,159.0 L787.0,153.0 L787.9,147.0 L789.4,141.2" fill="#fff" stroke="#000" stroke-width="4.6" stroke-linejoin="round" stroke-linecap="round" />
<path d="M857.9,141.5 L858.9,147.0 L859.6,153.0 L860.0,159.0 L860.3,165.0 L860.7,171.0 L861.0,177.0 L861.2,183.0 L861.4,189.0 L861.6,195.0 L861.8,201.0 L862.0,207.0 L862.1,213.0 L862.2,219.0 L862.3,225.0 L862.5,231.0 L862.6,237.0 L862.7,243.0 L862.9,249.0 L862.9,255.0 L863.0,261.0 L863.1,267.0 L863.2,273.0 L863.2,279.0 L863.3,285.0 L863.4,291.0 L863.5,298.9 A5.3,5.3 0 0 0 874.1,298.9 L874.1,298.9 L874.0,291.0 L873.9,285.0 L873.8,279.0 L873.7,273.0 L873.7,267.0 L873.6,261.0 L873.5,255.0 L873.4,249.0 L873.3,243.0 L873.2,237.0 L873.0,231.0 L872.9,225.0 L872.8,219.0 L872.7,213.0 L872.5,207.0 L872.4,201.0 L872.2,195.0 L871.9,189.0 L871.6,183.0 L871.3,177.0 L870.9,171.0 L870.4,165.0 L870.0,159.0 L869.5,153.0 L868.6,147.0 L867.3,141.5" fill="#fff" stroke="#000" stroke-width="4.6" stroke-linejoin="round" stroke-linecap="round" />
<path d="M866.5,159.0 L866.9,165.0 L867.3,171.0 L867.6,177.0 L867.9,183.0 L868.1,189.0 L868.4,195.0 L868.6,201.0 L868.8,207.0 L868.9,213.0 L869.0,219.0 L869.1,225.0 L869.3,231.0 L869.4,237.0 L869.5,243.0 L869.6,249.0 L869.7,255.0 L869.8,261.0 L869.9,267.0 L869.9,273.0 L870.0,279.0" fill="none" stroke="#000" stroke-width="1.1" stroke-linejoin="round" stroke-linecap="round" />
<path d="M794.5,141.6 L793.3,147.0 L792.5,153.0 L792.0,159.0 L791.6,165.0 L791.2,171.0 L790.9,177.0 L790.6,183.0 L790.3,189.0 L790.1,195.0 L789.9,201.0 L789.8,207.0 L789.6,213.0 L789.5,219.0 L789.4,225.0 L789.3,231.0 L789.2,237.0 L789.1,243.0 L789.0,249.0 L788.9,255.0 L788.8,261.0 L788.8,267.0 L788.7,273.0 L788.6,279.0 L788.6,285.0 L788.5,291.0 L788.4,299.4 A5.4,5.4 0 0 0 799.1,299.4 L799.1,299.4 L799.2,291.0 L799.3,285.0 L799.3,279.0 L799.4,273.0 L799.5,267.0 L799.5,261.0 L799.6,255.0 L799.7,249.0 L799.8,243.0 L799.9,237.0 L800.0,231.0 L800.1,225.0 L800.2,219.0 L800.4,213.0 L800.5,207.0 L800.6,201.0 L800.8,195.0 L801.0,189.0 L801.2,183.0 L801.3,177.0 L801.6,171.0 L801.9,165.0 L802.2,159.0 L802.5,153.0 L803.1,147.0 L804.0,141.6" fill="#fff" stroke="#000" stroke-width="4.6" stroke-linejoin="round" stroke-linecap="round" />
<path d="M798.6,159.0 L798.3,165.0 L797.9,171.0 L797.6,177.0 L797.4,183.0 L797.2,189.0 L796.9,195.0 L796.7,201.0 L796.6,207.0 L796.5,213.0 L796.4,219.0 L796.3,225.0 L796.2,231.0 L796.1,237.0 L795.9,243.0 L795.8,249.0 L795.8,255.0 L795.7,261.0 L795.6,267.0 L795.6,273.0 L795.5,279.0" fill="none" stroke="#000" stroke-width="1.1" stroke-linejoin="round" stroke-linecap="round" />
<path d="M842.4,141.9 L842.8,147.0 L843.1,153.0 L843.3,159.0 L843.4,165.0 L843.6,171.0 L843.7,177.0 L843.8,183.0 L843.9,189.0 L844.0,195.0 L844.2,201.0 L844.2,207.0 L844.3,213.0 L844.4,219.0 L844.4,225.0 L844.5,231.0 L844.6,237.0 L844.6,243.0 L844.7,249.0 L844.8,255.0 L844.8,261.0 L844.8,267.0 L844.9,273.0 L844.9,279.0 L845.0,285.0 L845.0,291.0 L845.1,300.4 A5.5,5.5 0 0 0 856.1,300.4 L856.1,300.4 L856.0,291.0 L856.0,285.0 L855.9,279.0 L855.9,273.0 L855.9,267.0 L855.8,261.0 L855.8,255.0 L855.7,249.0 L855.7,243.0 L855.6,237.0 L855.5,231.0 L855.5,225.0 L855.4,219.0 L855.3,213.0 L855.3,207.0 L855.2,201.0 L855.1,195.0 L854.9,189.0 L854.7,183.0 L854.5,177.0 L854.3,171.0 L854.0,165.0 L853.7,159.0 L853.5,153.0 L852.9,147.0 L852.1,141.9" fill="#fff" stroke="#000" stroke-width="4.6" stroke-linejoin="round" stroke-linecap="round" />
<path d="M850.0,159.0 L850.2,165.0 L850.4,171.0 L850.6,177.0 L850.8,183.0 L850.9,189.0 L851.1,195.0 L851.2,201.0 L851.2,207.0 L851.3,213.0 L851.4,219.0 L851.5,225.0 L851.5,231.0 L851.6,237.0 L851.7,243.0 L851.7,249.0 L851.8,255.0 L851.8,261.0 L851.9,267.0 L851.9,273.0 L851.9,279.0" fill="none" stroke="#000" stroke-width="1.1" stroke-linejoin="round" stroke-linecap="round" />
<path d="M809.9,141.9 L809.3,147.0 L808.8,153.0 L808.6,159.0 L808.4,165.0 L808.1,171.0 L807.9,177.0 L807.8,183.0 L807.7,189.0 L807.5,195.0 L807.4,201.0 L807.4,207.0 L807.3,213.0 L807.3,219.0 L807.2,225.0 L807.2,231.0 L807.1,237.0 L807.0,243.0 L807.0,249.0 L807.0,255.0 L806.9,261.0 L806.9,267.0 L806.9,273.0 L806.8,279.0 L806.8,285.0 L806.8,291.0 L806.7,300.6 A5.5,5.5 0 0 0 817.8,300.6 L817.8,300.6 L817.9,291.0 L817.9,285.0 L817.9,279.0 L818.0,273.0 L818.0,267.0 L818.0,261.0 L818.1,255.0 L818.1,249.0 L818.1,243.0 L818.2,237.0 L818.2,231.0 L818.3,225.0 L818.4,219.0 L818.4,213.0 L818.5,207.0 L818.5,201.0 L818.6,195.0 L818.7,189.0 L818.7,183.0 L818.8,177.0 L818.9,171.0 L819.0,165.0 L819.1,159.0 L819.2,153.0 L819.5,147.0 L819.8,141.9" fill="#fff" stroke="#000" stroke-width="4.6" stroke-linejoin="round" stroke-linecap="round" />
<path d="M815.4,159.0 L815.2,165.0 L815.0,171.0 L814.9,177.0 L814.8,183.0 L814.7,189.0 L814.6,195.0 L814.5,201.0 L814.4,207.0 L814.4,213.0 L814.3,219.0 L814.3,225.0 L814.2,231.0 L814.1,237.0 L814.1,243.0 L814.0,249.0 L814.0,255.0 L814.0,261.0 L813.9,267.0 L813.9,273.0 L813.9,279.0" fill="none" stroke="#000" stroke-width="1.1" stroke-linejoin="round" stroke-linecap="round" />
<path d="M826.1,142.0 L826.0,147.0 L826.0,153.0 L825.9,159.0 L825.9,165.0 L825.9,171.0 L825.8,177.0 L825.8,183.0 L825.8,189.0 L825.8,195.0 L825.8,201.0 L825.8,207.0 L825.8,213.0 L825.8,219.0 L825.8,225.0 L825.8,231.0 L825.8,237.0 L825.8,243.0 L825.8,249.0 L825.8,255.0 L825.8,261.0 L825.8,267.0 L825.9,273.0 L825.9,279.0 L825.9,285.0 L825.9,291.0 L825.9,301.0 A5.6,5.6 0 0 0 837.1,301.0 L837.1,301.0 L837.1,291.0 L837.1,285.0 L837.1,279.0 L837.1,273.0 L837.0,267.0 L837.0,261.0 L837.0,255.0 L837.0,249.0 L837.0,243.0 L837.0,237.0 L837.0,231.0 L837.0,225.0 L837.0,219.0 L837.0,213.0 L837.0,207.0 L837.0,201.0 L837.0,195.0 L836.9,189.0 L836.8,183.0 L836.8,177.0 L836.7,171.0 L836.6,165.0 L836.6,159.0 L836.5,153.0 L836.3,147.0 L836.1,142.0" fill="#fff" stroke="#000" stroke-width="4.6" stroke-linejoin="round" stroke-linecap="round" />
<path d="M832.7,159.0 L832.8,165.0 L832.8,171.0 L832.8,177.0 L832.8,183.0 L832.8,189.0 L832.9,195.0 L832.9,201.0 L832.9,207.0 L832.9,213.0 L832.9,219.0 L832.9,225.0 L832.9,231.0 L832.9,237.0 L832.9,243.0 L832.9,249.0 L832.9,255.0 L832.9,261.0 L832.9,267.0 L833.0,273.0 L833.0,279.0" fill="none" stroke="#000" stroke-width="1.1" stroke-linejoin="round" stroke-linecap="round" />
<ellipse cx="829.0" cy="133.0" rx="51.0" ry="11.5" fill="#fff" stroke="#000" stroke-width="2.4"/>
<path d="M790,128 Q829,118 868,128" fill="none" stroke="#000" stroke-width="1.2" stroke-linejoin="round" stroke-linecap="round" />
<path d="M850,124 L858,124 M855,121 L862,126" fill="none" stroke="#000" stroke-width="1.2" stroke-linejoin="round" stroke-linecap="round" />
<text transform="translate(745.0 307.8) rotate(180) scale(0.60 1)" x="0" y="11" font-family="Liberation Sans" font-size="31" text-anchor="middle" fill="#000" stroke="#000" stroke-width="1.5">5</text>
<rect x="765.5" y="306.0" width="3.8" height="19" fill="#fff" stroke="#000" stroke-width="1.8"/>
<text transform="translate(797.8 320.0) rotate(180) scale(0.93 1)" x="0" y="11" font-family="Liberation Sans" font-size="31" text-anchor="middle" fill="#000" stroke="#000" stroke-width="1.5">4</text>
<rect x="832.2" y="312.0" width="5.2" height="19" fill="#fff" stroke="#000" stroke-width="1.8"/>
<text transform="translate(869.7 319.6) rotate(180) scale(0.91 1)" x="0" y="11" font-family="Liberation Sans" font-size="31" text-anchor="middle" fill="#000" stroke="#000" stroke-width="1.5">3</text>
<rect x="899.6" y="304.6" width="3.5" height="19" fill="#fff" stroke="#000" stroke-width="1.8"/>
<text transform="translate(920.4 306.3) rotate(180) scale(0.60 1)" x="0" y="11" font-family="Liberation Sans" font-size="31" text-anchor="middle" fill="#000" stroke="#000" stroke-width="1.5">2</text>
<path d="M862,391 L862,364 Q864,350 873,346.5 Q882,350 884,364 L884,391 Z" fill="#fff" stroke="#000" stroke-width="2.4" stroke-linejoin="round" stroke-linecap="round" />
<line x1="874.0" y1="350.0" x2="876.0" y2="390.0" stroke="#000" stroke-width="1.3" stroke-linecap="round"/>
<path d="M790,400 L790,412 M870,400 L870,412" fill="none" stroke="#000" stroke-width="1.4" stroke-linejoin="round" stroke-linecap="round" />
<path d="M767,413 L767,447 Q828,462 890,447 L890,413 Z" fill="#fff" stroke="#000" stroke-width="2.4" stroke-linejoin="round" stroke-linecap="round" />
<line x1="767.8" y1="416.6" x2="767.8" y2="447.8" stroke="#000" stroke-width="2.5672455412282456" stroke-linecap="round"/>
<line x1="769.3" y1="417.5" x2="769.3" y2="448.9" stroke="#000" stroke-width="1.6" stroke-linecap="round"/>
<line x1="771.9" y1="418.2" x2="771.9" y2="450.0" stroke="#000" stroke-width="2.9993705494654592" stroke-linecap="round"/>
<line x1="775.7" y1="419.0" x2="775.7" y2="451.0" stroke="#000" stroke-width="1.6" stroke-linecap="round"/>
<line x1="780.4" y1="419.7" x2="780.4" y2="451.9" stroke="#000" stroke-width="3.3850583605210534" stroke-linecap="round"/>
<line x1="786.1" y1="420.3" x2="786.1" y2="452.8" stroke="#000" stroke-width="1.6" stroke-linecap="round"/>
<line x1="792.6" y1="420.9" x2="792.6" y2="453.5" stroke="#000" stroke-width="3.694427190999916" stroke-linecap="round"/>
<line x1="799.9" y1="421.3" x2="799.9" y2="454.1" stroke="#000" stroke-width="1.6" stroke-linecap="round"/>
<line x1="807.6" y1="421.6" x2="807.6" y2="454.5" stroke="#000" stroke-width="3.9035081932574536" stroke-linecap="round"/>
<line x1="815.8" y1="421.9" x2="815.8" y2="454.8" stroke="#000" stroke-width="1.6" stroke-linecap="round"/>
<line x1="824.2" y1="422.0" x2="824.2" y2="455.0" stroke="#000" stroke-width="3.996102480415719" stroke-linecap="round"/>
<line x1="832.8" y1="422.0" x2="832.8" y2="455.0" stroke="#000" stroke-width="1.6" stroke-linecap="round"/>
<line x1="841.2" y1="421.9" x2="841.2" y2="454.8" stroke="#000" stroke-width="3.965036161174089" stroke-linecap="round"/>
<line x1="849.4" y1="421.6" x2="849.4" y2="454.5" stroke="#000" stroke-width="1.6" stroke-linecap="round"/>
<line x1="857.1" y1="421.3" x2="857.1" y2="454.1" stroke="#000" stroke-width="3.812716148574283" stroke-linecap="round"/>
<line x1="864.4" y1="420.9" x2="864.4" y2="453.5" stroke="#000" stroke-width="1.6" stroke-linecap="round"/>
<line x1="870.9" y1="420.3" x2="870.9" y2="452.8" stroke="#000" stroke-width="3.5509436805418417" stroke-linecap="round"/>
<line x1="876.6" y1="419.7" x2="876.6" y2="451.9" stroke="#000" stroke-width="1.6" stroke-linecap="round"/>
<line x1="881.3" y1="419.0" x2="881.3" y2="451.0" stroke="#000" stroke-width="3.2" stroke-linecap="round"/>
<line x1="885.1" y1="418.2" x2="885.1" y2="450.0" stroke="#000" stroke-width="1.6" stroke-linecap="round"/>
<line x1="887.7" y1="417.5" x2="887.7" y2="448.9" stroke="#000" stroke-width="2.7870750329594682" stroke-linecap="round"/>
<line x1="889.2" y1="416.6" x2="889.2" y2="447.8" stroke="#000" stroke-width="1.6" stroke-linecap="round"/>
<rect x="846" y="430" width="14" height="20" fill="#fff" stroke="#000" stroke-width="1.6"/>
<ellipse cx="828.5" cy="412.0" rx="61.5" ry="8.0" fill="#fff" stroke="#000" stroke-width="2.4"/>
<ellipse cx="828.5" cy="412.0" rx="53.0" ry="5.5" fill="none" stroke="#000" stroke-width="1.4"/>
<path d="M767,447 Q828,464 890,447" fill="none" stroke="#000" stroke-width="2.6" stroke-linejoin="round" stroke-linecap="round" />
<path d="M712,468 Q735,462 760,463 L790,466 L790,500 L718,520 Z" fill="#fff" stroke="#000" stroke-width="2" stroke-linejoin="round" stroke-linecap="round" />
<path d="M716,470 Q712,478 716,486" fill="none" stroke="#000" stroke-width="1.4" stroke-linejoin="round" stroke-linecap="round" />
<path d="M780,452 L780,468 Q828,476 877,468 L877,452" fill="#fff" stroke="#000" stroke-width="2" stroke-linejoin="round" stroke-linecap="round" />
<path d="M877,457 Q900,462 905,480 L905,495 Q900,500 890,500 L877,495 Z" fill="#fff" stroke="#000" stroke-width="2" stroke-linejoin="round" stroke-linecap="round" />
<path d="M884,470 Q896,474 898,486" fill="none" stroke="#000" stroke-width="1.4" stroke-linejoin="round" stroke-linecap="round" />
<line x1="906.0" y1="448.0" x2="906.0" y2="492.0" stroke="#000" stroke-width="1.6" stroke-linecap="round"/>
<path d="M740,483 Q722,490 717,528 Q716,560 735,580 L745,575 Q730,540 745,490 Z" fill="#fff" stroke="#000" stroke-width="2" stroke-linejoin="round" stroke-linecap="round" />
<rect x="730.0" y="492.0" width="5" height="5" fill="none" stroke="#000" stroke-width="1.4"/>
<rect x="727.7" y="503.1" width="5" height="5" fill="none" stroke="#000" stroke-width="1.4"/>
<rect x="725.4" y="514.3" width="5" height="5" fill="none" stroke="#000" stroke-width="1.4"/>
<rect x="723.1" y="525.4" width="5" height="5" fill="none" stroke="#000" stroke-width="1.4"/>
<rect x="723.1" y="536.6" width="5" height="5" fill="none" stroke="#000" stroke-width="1.4"/>
<rect x="725.4" y="547.7" width="5" height="5" fill="none" stroke="#000" stroke-width="1.4"/>
<rect x="727.7" y="558.9" width="5" height="5" fill="none" stroke="#000" stroke-width="1.4"/>
<rect x="730.0" y="570.0" width="5" height="5" fill="none" stroke="#000" stroke-width="1.4"/>
<defs><clipPath id="silclip"><path d="M772.0,477.0 C788.0,469.3 781.0,472.7 800.0,469.0 C819.0,465.3 809.0,465.7 829.0,466.0 C849.0,466.3 834.3,461.0 860.0,470.0 C885.7,479.0 881.0,478.7 906.0,493.0 C931.0,507.3 917.3,498.7 935.0,513.0 C952.7,527.3 947.3,521.7 959.0,536.0 C970.7,550.3 964.7,542.0 970.0,556.0 C975.3,570.0 973.0,563.3 975.0,578.0 C977.0,592.7 975.8,584.0 976.0,600.0 C976.2,616.0 979.2,611.0 975.5,626.0 C971.8,641.0 972.6,634.3 965.0,645.0 C957.4,655.7 964.3,650.3 952.6,658.0 C940.9,665.7 947.2,663.2 930.0,668.0 C912.8,672.8 921.0,671.5 901.0,672.5 C881.0,673.5 889.2,672.8 870.0,671.0 C850.8,669.2 863.5,671.3 843.5,667.0 C823.5,662.7 829.2,664.7 810.0,658.0 C790.8,651.3 802.7,655.7 786.0,647.0 C769.3,638.3 774.3,643.7 760.0,632.0 C745.7,620.3 752.3,627.7 743.0,612.0 C733.7,596.3 736.8,604.0 732.0,585.0 C727.2,566.0 729.0,573.3 728.7,555.0 C728.4,536.7 728.2,544.3 731.0,530.0 C733.8,515.7 730.0,524.7 737.0,512.0 C744.0,499.3 740.3,503.7 752.0,492.0 C763.7,480.3 756.0,484.7 772.0,477.0 Z"/></clipPath></defs>
<path d="M772.0,477.0 C788.0,469.3 781.0,472.7 800.0,469.0 C819.0,465.3 809.0,465.7 829.0,466.0 C849.0,466.3 834.3,461.0 860.0,470.0 C885.7,479.0 881.0,478.7 906.0,493.0 C931.0,507.3 917.3,498.7 935.0,513.0 C952.7,527.3 947.3,521.7 959.0,536.0 C970.7,550.3 964.7,542.0 970.0,556.0 C975.3,570.0 973.0,563.3 975.0,578.0 C977.0,592.7 975.8,584.0 976.0,600.0 C976.2,616.0 979.2,611.0 975.5,626.0 C971.8,641.0 972.6,634.3 965.0,645.0 C957.4,655.7 964.3,650.3 952.6,658.0 C940.9,665.7 947.2,663.2 930.0,668.0 C912.8,672.8 921.0,671.5 901.0,672.5 C881.0,673.5 889.2,672.8 870.0,671.0 C850.8,669.2 863.5,671.3 843.5,667.0 C823.5,662.7 829.2,664.7 810.0,658.0 C790.8,651.3 802.7,655.7 786.0,647.0 C769.3,638.3 774.3,643.7 760.0,632.0 C745.7,620.3 752.3,627.7 743.0,612.0 C733.7,596.3 736.8,604.0 732.0,585.0 C727.2,566.0 729.0,573.3 728.7,555.0 C728.4,536.7 728.2,544.3 731.0,530.0 C733.8,515.7 730.0,524.7 737.0,512.0 C744.0,499.3 740.3,503.7 752.0,492.0 C763.7,480.3 756.0,484.7 772.0,477.0 Z" fill="#fff" stroke="#000" stroke-width="2.6" stroke-linejoin="round"/>
<path d="M800,474 Q770,482 752,505 Q738,530 737,560 Q738,595 752,620 Q765,638 786,650" fill="none" stroke="#000" stroke-width="1.6" stroke-linejoin="round" stroke-linecap="round" />
<line x1="790.0" y1="479.0" x2="797.0" y2="475.0" stroke="#000" stroke-width="2.8" stroke-linecap="round"/>
<line x1="773.0" y1="490.0" x2="782.0" y2="486.0" stroke="#000" stroke-width="2.8" stroke-linecap="round"/>
<line x1="760.0" y1="502.0" x2="768.0" y2="498.0" stroke="#000" stroke-width="2.8" stroke-linecap="round"/>
<line x1="735.0" y1="567.0" x2="743.0" y2="572.0" stroke="#000" stroke-width="2.8" stroke-linecap="round"/>
<line x1="752.0" y1="618.0" x2="758.0" y2="624.0" stroke="#000" stroke-width="2.8" stroke-linecap="round"/>
<text x="0" y="0" transform="translate(771 512) rotate(-30)" font-family="Liberation Sans" font-size="13" font-weight="bold">2</text>
<text x="0" y="0" transform="translate(752 546) rotate(-30)" font-family="Liberation Sans" font-size="13" font-weight="bold">^</text>
<text x="0" y="0" transform="translate(748 580) rotate(-20)" font-family="Liberation Sans" font-size="12" font-weight="bold">1</text>
<ellipse cx="911.0" cy="601.0" rx="64.0" ry="64.0" fill="none" stroke="#000" stroke-width="1.3"/>
<g clip-path="url(#silclip)">
<g transform="translate(783.3 636.7) rotate(6.0)"><path d="M77.41671235648548,-5.25 L0,-5.25 A5.25,5.25 0 0 0 0,5.25 L77.41671235648548,5.25 A5.25,5.25 0 0 0 77.41671235648548,-5.25 Z" fill="#fff" stroke="#000" stroke-width="3.4"/><path d="M2.625,-1.3125 L75.41671235648548,-1.3125" stroke="#000" stroke-width="1.2"/><path d="M27.095849324769915,1.8375 L75.41671235648548,1.8375" stroke="#000" stroke-width="2.4"/></g>
<g transform="translate(773.3 625.6) rotate(9.0)"><path d="M83.29062972496948,-5.5 L0,-5.5 A5.5,5.5 0 0 0 0,5.5 L83.29062972496948,5.5 A5.5,5.5 0 0 0 83.29062972496948,-5.5 Z" fill="#fff" stroke="#000" stroke-width="3.4"/><path d="M2.75,-1.375 L81.29062972496948,-1.375" stroke="#000" stroke-width="1.2"/><path d="M29.151720403739315,1.9249999999999998 L81.29062972496948,1.9249999999999998" stroke="#000" stroke-width="2.4"/></g>
<g transform="translate(766.7 610.0) rotate(12.0)"><path d="M84.65706161779227,-5.5 L0,-5.5 A5.5,5.5 0 0 0 0,5.5 L84.65706161779227,5.5 A5.5,5.5 0 0 0 84.65706161779227,-5.5 Z" fill="#fff" stroke="#000" stroke-width="3.4"/><path d="M2.75,-1.375 L82.65706161779227,-1.375" stroke="#000" stroke-width="1.2"/><path d="M29.62997156622729,1.9249999999999998 L82.65706161779227,1.9249999999999998" stroke="#000" stroke-width="2.4"/></g>
<g transform="translate(762.2 592.2) rotate(15.0)"><path d="M86.10518148562761,-5.75 L0,-5.75 A5.75,5.75 0 0 0 0,5.75 L86.10518148562761,5.75 A5.75,5.75 0 0 0 86.10518148562761,-5.75 Z" fill="#fff" stroke="#000" stroke-width="3.4"/><path d="M2.875,-1.4375 L84.10518148562761,-1.4375" stroke="#000" stroke-width="1.2"/><path d="M30.13681351996966,2.0124999999999997 L84.10518148562761,2.0124999999999997" stroke="#000" stroke-width="2.4"/></g>
<g transform="translate(761.1 574.4) rotate(18.0)"><path d="M87.16710487546764,-5.75 L0,-5.75 A5.75,5.75 0 0 0 0,5.75 L87.16710487546764,5.75 A5.75,5.75 0 0 0 87.16710487546764,-5.75 Z" fill="#fff" stroke="#000" stroke-width="3.4"/><path d="M2.875,-1.4375 L85.16710487546764,-1.4375" stroke="#000" stroke-width="1.2"/><path d="M30.508486706413674,2.0124999999999997 L85.16710487546764,2.0124999999999997" stroke="#000" stroke-width="2.4"/></g>
<g transform="translate(762.2 556.7) rotate(21.0)"><path d="M88.86995224591278,-5.75 L0,-5.75 A5.75,5.75 0 0 0 0,5.75 L88.86995224591278,5.75 A5.75,5.75 0 0 0 88.86995224591278,-5.75 Z" fill="#fff" stroke="#000" stroke-width="3.4"/><path d="M2.875,-1.4375 L86.86995224591278,-1.4375" stroke="#000" stroke-width="1.2"/><path d="M31.104483286069474,2.0124999999999997 L86.86995224591278,2.0124999999999997" stroke="#000" stroke-width="2.4"/></g>
<g transform="translate(766.7 538.9) rotate(24.0)"><path d="M90.1116569338993,-5.75 L0,-5.75 A5.75,5.75 0 0 0 0,5.75 L90.1116569338993,5.75 A5.75,5.75 0 0 0 90.1116569338993,-5.75 Z" fill="#fff" stroke="#000" stroke-width="3.4"/><path d="M2.875,-1.4375 L88.1116569338993,-1.4375" stroke="#000" stroke-width="1.2"/><path d="M31.53907992686475,2.0124999999999997 L88.1116569338993,2.0124999999999997" stroke="#000" stroke-width="2.4"/></g>
<g transform="translate(774.4 523.3) rotate(27.0)"><path d="M90.37628480546257,-5.75 L0,-5.75 A5.75,5.75 0 0 0 0,5.75 L90.37628480546257,5.75 A5.75,5.75 0 0 0 90.37628480546257,-5.75 Z" fill="#fff" stroke="#000" stroke-width="3.4"/><path d="M2.875,-1.4375 L88.37628480546257,-1.4375" stroke="#000" stroke-width="1.2"/><path d="M31.6316996819119,2.0124999999999997 L88.37628480546257,2.0124999999999997" stroke="#000" stroke-width="2.4"/></g>
<g transform="translate(784.4 510.0) rotate(30.0)"><path d="M89.95835687832977,-5.75 L0,-5.75 A5.75,5.75 0 0 0 0,5.75 L89.95835687832977,5.75 A5.75,5.75 0 0 0 89.95835687832977,-5.75 Z" fill="#fff" stroke="#000" stroke-width="3.4"/><path d="M2.875,-1.4375 L87.95835687832977,-1.4375" stroke="#000" stroke-width="1.2"/><path d="M31.485424907415418,2.0124999999999997 L87.95835687832977,2.0124999999999997" stroke="#000" stroke-width="2.4"/></g>
<g transform="translate(797.8 500.0) rotate(32.0)"><path d="M87.63182330306023,-5.75 L0,-5.75 A5.75,5.75 0 0 0 0,5.75 L87.63182330306023,5.75 A5.75,5.75 0 0 0 87.63182330306023,-5.75 Z" fill="#fff" stroke="#000" stroke-width="3.4"/><path d="M2.875,-1.4375 L85.63182330306023,-1.4375" stroke="#000" stroke-width="1.2"/><path d="M30.671138156071077,2.0124999999999997 L85.63182330306023,2.0124999999999997" stroke="#000" stroke-width="2.4"/></g>
<g transform="translate(812.2 491.1) rotate(34.0)"><path d="M86.77050804382122,-5.75 L0,-5.75 A5.75,5.75 0 0 0 0,5.75 L86.77050804382122,5.75 A5.75,5.75 0 0 0 86.77050804382122,-5.75 Z" fill="#fff" stroke="#000" stroke-width="3.4"/><path d="M2.875,-1.4375 L84.77050804382122,-1.4375" stroke="#000" stroke-width="1.2"/><path d="M30.369677815337425,2.0124999999999997 L84.77050804382122,2.0124999999999997" stroke="#000" stroke-width="2.4"/></g>
<g transform="translate(827.8 482.2) rotate(34.0)"><path d="M93.11551288771135,-5.75 L0,-5.75 A5.75,5.75 0 0 0 0,5.75 L93.11551288771135,5.75 A5.75,5.75 0 0 0 93.11551288771135,-5.75 Z" fill="#fff" stroke="#000" stroke-width="3.4"/><path d="M2.875,-1.4375 L91.11551288771135,-1.4375" stroke="#000" stroke-width="1.2"/><path d="M32.59042951069897,2.0124999999999997 L91.11551288771135,2.0124999999999997" stroke="#000" stroke-width="2.4"/></g>
<g transform="translate(855.7 478.2) rotate(37.5)"><path d="M98.04306179675575,-5.5 L0,-5.5 A5.5,5.5 0 0 0 0,5.5 L98.04306179675575,5.5 A5.5,5.5 0 0 0 98.04306179675575,-5.5 Z" fill="#fff" stroke="#000" stroke-width="3.4"/><path d="M2.75,-1.375 L96.04306179675575,-1.375" stroke="#000" stroke-width="1.2"/><path d="M34.31507162886451,1.9249999999999998 L96.04306179675575,1.9249999999999998" stroke="#000" stroke-width="2.4"/></g>
<g transform="translate(880.0 481.0) rotate(40.0)"><path d="M100.88189089907304,-5.25 L0,-5.25 A5.25,5.25 0 0 0 0,5.25 L100.88189089907304,5.25 A5.25,5.25 0 0 0 100.88189089907304,-5.25 Z" fill="#fff" stroke="#000" stroke-width="3.4"/><path d="M2.625,-1.3125 L98.88189089907304,-1.3125" stroke="#000" stroke-width="1.2"/><path d="M35.30866181467556,1.8375 L98.88189089907304,1.8375" stroke="#000" stroke-width="2.4"/></g>
<g transform="translate(900.0 486.0) rotate(44.0)"><path d="M87.79845040650991,-5.0 L0,-5.0 A5.0,5.0 0 0 0 0,5.0 L87.79845040650991,5.0 A5.0,5.0 0 0 0 87.79845040650991,-5.0 Z" fill="#fff" stroke="#000" stroke-width="3.4"/><path d="M2.5,-1.25 L85.79845040650991,-1.25" stroke="#000" stroke-width="1.2"/><path d="M30.72945764227847,1.75 L85.79845040650991,1.75" stroke="#000" stroke-width="2.4"/></g>
</g>
<g transform="translate(954.1 549.7) rotate(130.0)"><path d="M10.999999999999975,-5.5 L0,-5.5 A5.5,5.5 0 0 0 0,5.5 L10.999999999999975,5.5 Z" fill="#fff" stroke="none"/><path d="M10.999999999999975,-5.5 L0,-5.5 A5.5,5.5 0 0 0 0,5.5 L10.999999999999975,5.5" fill="none" stroke="#000" stroke-width="3.0" stroke-linecap="round"/></g>
<ellipse cx="951.9" cy="552.2" rx="3.0" ry="4.0" fill="none" stroke="#000" stroke-width="1.4" transform="rotate(-50.0 951.9 552.2)"/>
<g transform="translate(965.9 562.6) rotate(145.0)"><path d="M10.999999999999996,-5.5 L0,-5.5 A5.5,5.5 0 0 0 0,5.5 L10.999999999999996,5.5 Z" fill="#fff" stroke="none"/><path d="M10.999999999999996,-5.5 L0,-5.5 A5.5,5.5 0 0 0 0,5.5 L10.999999999999996,5.5" fill="none" stroke="#000" stroke-width="3.0" stroke-linecap="round"/></g>
<ellipse cx="963.2" cy="564.5" rx="3.0" ry="4.0" fill="none" stroke="#000" stroke-width="1.4" transform="rotate(-35.0 963.2 564.5)"/>
<g transform="translate(974.0 578.1) rotate(160.0)"><path d="M10.999999999999979,-5.5 L0,-5.5 A5.5,5.5 0 0 0 0,5.5 L10.999999999999979,5.5 Z" fill="#fff" stroke="none"/><path d="M10.999999999999979,-5.5 L0,-5.5 A5.5,5.5 0 0 0 0,5.5 L10.999999999999979,5.5" fill="none" stroke="#000" stroke-width="3.0" stroke-linecap="round"/></g>
<ellipse cx="970.9" cy="579.2" rx="3.0" ry="4.0" fill="none" stroke="#000" stroke-width="1.4" transform="rotate(-20.0 970.9 579.2)"/>
<g transform="translate(977.7 595.2) rotate(175.0)"><path d="M10.999999999999941,-5.5 L0,-5.5 A5.5,5.5 0 0 0 0,5.5 L10.999999999999941,5.5 Z" fill="#fff" stroke="none"/><path d="M10.999999999999941,-5.5 L0,-5.5 A5.5,5.5 0 0 0 0,5.5 L10.999999999999941,5.5" fill="none" stroke="#000" stroke-width="3.0" stroke-linecap="round"/></g>
<ellipse cx="974.5" cy="595.4" rx="3.0" ry="4.0" fill="none" stroke="#000" stroke-width="1.4" transform="rotate(-5.0 974.5 595.4)"/>
<g transform="translate(977.0 612.6) rotate(-170.0)"><path d="M10.999999999999984,-5.5 L0,-5.5 A5.5,5.5 0 0 0 0,5.5 L10.999999999999984,5.5 Z" fill="#fff" stroke="none"/><path d="M10.999999999999984,-5.5 L0,-5.5 A5.5,5.5 0 0 0 0,5.5 L10.999999999999984,5.5" fill="none" stroke="#000" stroke-width="3.0" stroke-linecap="round"/></g>
<ellipse cx="973.7" cy="612.1" rx="3.0" ry="4.0" fill="none" stroke="#000" stroke-width="1.4" transform="rotate(10.0 973.7 612.1)"/>
<g transform="translate(971.7 629.3) rotate(-155.0)"><path d="M10.99999999999999,-5.5 L0,-5.5 A5.5,5.5 0 0 0 0,5.5 L10.99999999999999,5.5 Z" fill="#fff" stroke="none"/><path d="M10.99999999999999,-5.5 L0,-5.5 A5.5,5.5 0 0 0 0,5.5 L10.99999999999999,5.5" fill="none" stroke="#000" stroke-width="3.0" stroke-linecap="round"/></g>
<ellipse cx="968.7" cy="627.9" rx="3.0" ry="4.0" fill="none" stroke="#000" stroke-width="1.4" transform="rotate(25.0 968.7 627.9)"/>
<g transform="translate(962.3 644.1) rotate(-140.0)"><path d="M10.999999999999975,-5.5 L0,-5.5 A5.5,5.5 0 0 0 0,5.5 L10.999999999999975,5.5 Z" fill="#fff" stroke="none"/><path d="M10.999999999999975,-5.5 L0,-5.5 A5.5,5.5 0 0 0 0,5.5 L10.999999999999975,5.5" fill="none" stroke="#000" stroke-width="3.0" stroke-linecap="round"/></g>
<ellipse cx="959.8" cy="641.9" rx="3.0" ry="4.0" fill="none" stroke="#000" stroke-width="1.4" transform="rotate(40.0 959.8 641.9)"/>
<g transform="translate(949.4 655.9) rotate(-125.0)"><path d="M10.999999999999996,-5.5 L0,-5.5 A5.5,5.5 0 0 0 0,5.5 L10.999999999999996,5.5 Z" fill="#fff" stroke="none"/><path d="M10.999999999999996,-5.5 L0,-5.5 A5.5,5.5 0 0 0 0,5.5 L10.999999999999996,5.5" fill="none" stroke="#000" stroke-width="3.0" stroke-linecap="round"/></g>
<ellipse cx="947.5" cy="653.2" rx="3.0" ry="4.0" fill="none" stroke="#000" stroke-width="1.4" transform="rotate(55.0 947.5 653.2)"/>
<g transform="translate(933.9 664.0) rotate(-110.0)"><path d="M10.999999999999979,-5.5 L0,-5.5 A5.5,5.5 0 0 0 0,5.5 L10.999999999999979,5.5 Z" fill="#fff" stroke="none"/><path d="M10.999999999999979,-5.5 L0,-5.5 A5.5,5.5 0 0 0 0,5.5 L10.999999999999979,5.5" fill="none" stroke="#000" stroke-width="3.0" stroke-linecap="round"/></g>
<ellipse cx="932.8" cy="660.9" rx="3.0" ry="4.0" fill="none" stroke="#000" stroke-width="1.4" transform="rotate(70.0 932.8 660.9)"/>
<g transform="translate(916.8 667.7) rotate(-95.0)"><path d="M10.999999999999941,-5.5 L0,-5.5 A5.5,5.5 0 0 0 0,5.5 L10.999999999999941,5.5 Z" fill="#fff" stroke="none"/><path d="M10.999999999999941,-5.5 L0,-5.5 A5.5,5.5 0 0 0 0,5.5 L10.999999999999941,5.5" fill="none" stroke="#000" stroke-width="3.0" stroke-linecap="round"/></g>
<ellipse cx="916.6" cy="664.5" rx="3.0" ry="4.0" fill="none" stroke="#000" stroke-width="1.4" transform="rotate(85.0 916.6 664.5)"/>
<g transform="translate(899.4 667.0) rotate(-80.0)"><path d="M10.999999999999984,-5.5 L0,-5.5 A5.5,5.5 0 0 0 0,5.5 L10.999999999999984,5.5 Z" fill="#fff" stroke="none"/><path d="M10.999999999999984,-5.5 L0,-5.5 A5.5,5.5 0 0 0 0,5.5 L10.999999999999984,5.5" fill="none" stroke="#000" stroke-width="3.0" stroke-linecap="round"/></g>
<ellipse cx="899.9" cy="663.7" rx="3.0" ry="4.0" fill="none" stroke="#000" stroke-width="1.4" transform="rotate(100.0 899.9 663.7)"/>
<g transform="translate(882.7 661.7) rotate(-65.0)"><path d="M10.99999999999999,-5.5 L0,-5.5 A5.5,5.5 0 0 0 0,5.5 L10.99999999999999,5.5 Z" fill="#fff" stroke="none"/><path d="M10.99999999999999,-5.5 L0,-5.5 A5.5,5.5 0 0 0 0,5.5 L10.99999999999999,5.5" fill="none" stroke="#000" stroke-width="3.0" stroke-linecap="round"/></g>
<ellipse cx="884.1" cy="658.7" rx="3.0" ry="4.0" fill="none" stroke="#000" stroke-width="1.4" transform="rotate(115.0 884.1 658.7)"/>
<ellipse cx="910.0" cy="600.5" rx="56.0" ry="59.5" fill="#fff" stroke="#000" stroke-width="1.4"/>
<ellipse cx="910.0" cy="600.5" rx="49.0" ry="53.0" fill="#fff" stroke="#000" stroke-width="7"/>
<line x1="901.5" y1="564.5" x2="922.5" y2="564.5" stroke="#000" stroke-width="2.6" stroke-linecap="round"/>
<line x1="904.6" y1="557.1" x2="919.4" y2="571.9" stroke="#000" stroke-width="2.6" stroke-linecap="round"/>
<line x1="912.0" y1="554.0" x2="912.0" y2="575.0" stroke="#000" stroke-width="2.6" stroke-linecap="round"/>
<line x1="919.4" y1="557.1" x2="904.6" y2="571.9" stroke="#000" stroke-width="2.6" stroke-linecap="round"/>
<ellipse cx="912.0" cy="564.5" rx="2.2" ry="2.2" fill="#fff" stroke="#000" stroke-width="1.4"/>
<line x1="880.0" y1="570.0" x2="888.0" y2="578.0" stroke="#000" stroke-width="2.6" stroke-linecap="round"/>
<line x1="942.0" y1="564.0" x2="936.0" y2="573.0" stroke="#000" stroke-width="2.6" stroke-linecap="round"/>
<text x="0" y="0" transform="translate(886 643.5) rotate(-10)" font-family="Liberation Sans" font-size="12.5" font-weight="bold" font-style="italic" stroke="#000" stroke-width="1.1">Heimeier</text>
<g transform="translate(615.5 152.6) rotate(-31)"><path d="M-46,-10 L46,-10 A10,10 0 0 1 46,10 L-46,10 A10,10 0 0 1 -46,-10 Z" fill="#fff" stroke="#000" stroke-width="2.8"/><path d="M-44,6 L46,6" stroke="#000" stroke-width="1.3" fill="none"/><path d="M43.0,-8 A7,7 0 0 1 43.0,7" stroke="#000" stroke-width="1.6" fill="none"/></g>
<ellipse cx="615.5" cy="152.6" rx="16.0" ry="16.5" fill="#fff" stroke="#000" stroke-width="3.4"/>
<ellipse cx="617.0" cy="153.6" rx="12.2" ry="12.7" fill="#fff" stroke="#000" stroke-width="1.3"/>
<line x1="607.5" y1="153.1" x2="625.5" y2="152.1" stroke="#000" stroke-width="3.4" stroke-linecap="round"/>
<line x1="616.5" y1="143.6" x2="616.5" y2="162.6" stroke="#000" stroke-width="2.6" stroke-linecap="round"/>
<g transform="translate(993 113) rotate(22.4)"><path d="M-45,-11 L43,-11 A11,11 0 0 1 43,11 L-45,11 A11,11 0 0 1 -45,-11 Z" fill="#fff" stroke="#000" stroke-width="2.8"/><path d="M-43,7 L43,7" stroke="#000" stroke-width="1.3" fill="none"/><path d="M39.7,-9 A8,8 0 0 1 39.7,8" stroke="#000" stroke-width="1.6" fill="none"/><rect x="-28" y="-10" width="14" height="20" fill="#000"/><line x1="-26" y1="-9" x2="-28" y2="9" stroke="#fff" stroke-width="0.8"/><line x1="-23" y1="-9" x2="-25" y2="9" stroke="#fff" stroke-width="0.8"/><line x1="-20" y1="-9" x2="-22" y2="9" stroke="#fff" stroke-width="0.8"/><line x1="-17" y1="-9" x2="-19" y2="9" stroke="#fff" stroke-width="0.8"/></g>
<ellipse cx="993.0" cy="113.0" rx="16.0" ry="16.5" fill="#fff" stroke="#000" stroke-width="3.4"/>
<ellipse cx="994.5" cy="114.0" rx="12.2" ry="12.7" fill="#fff" stroke="#000" stroke-width="1.3"/>
<line x1="985.0" y1="113.5" x2="1003.0" y2="112.5" stroke="#000" stroke-width="3.4" stroke-linecap="round"/>
<line x1="994.0" y1="104.0" x2="994.0" y2="123.0" stroke="#000" stroke-width="2.6" stroke-linecap="round"/>
<g transform="translate(618 721) rotate(56)"><path d="M-25,-9.5 L22,-9.5 A9.5,9.5 0 0 1 22,9.5 L-25,9.5 A9.5,9.5 0 0 1 -25,-9.5 Z" fill="#fff" stroke="#000" stroke-width="2.8"/><path d="M-23,5.5 L22,5.5" stroke="#000" stroke-width="1.3" fill="none"/><path d="M19.15,-7.5 A6.5,6.5 0 0 1 19.15,6.5" stroke="#000" stroke-width="1.6" fill="none"/></g>
<ellipse cx="618.0" cy="721.0" rx="15.5" ry="16.0" fill="#fff" stroke="#000" stroke-width="3.4"/>
<ellipse cx="619.5" cy="722.0" rx="11.7" ry="12.2" fill="#fff" stroke="#000" stroke-width="1.3"/>
<line x1="610.0" y1="721.5" x2="628.0" y2="720.5" stroke="#000" stroke-width="3.4" stroke-linecap="round"/>
<line x1="619.0" y1="712.0" x2="619.0" y2="731.0" stroke="#000" stroke-width="2.6" stroke-linecap="round"/>
<g transform="translate(993 680) rotate(-60.7)"><path d="M-32,-10 L33,-10 A10,10 0 0 1 33,10 L-32,10 A10,10 0 0 1 -32,-10 Z" fill="#fff" stroke="#000" stroke-width="2.8"/><path d="M-30,6 L33,6" stroke="#000" stroke-width="1.3" fill="none"/><path d="M30.0,-8 A7,7 0 0 1 30.0,7" stroke="#000" stroke-width="1.6" fill="none"/></g>
<ellipse cx="993.0" cy="680.0" rx="16.5" ry="17.0" fill="#fff" stroke="#000" stroke-width="3.4"/>
<ellipse cx="994.5" cy="681.0" rx="12.7" ry="13.2" fill="#fff" stroke="#000" stroke-width="1.3"/>
<line x1="985.0" y1="680.5" x2="1003.0" y2="679.5" stroke="#000" stroke-width="3.4" stroke-linecap="round"/>
<line x1="994.0" y1="671.0" x2="994.0" y2="690.0" stroke="#000" stroke-width="2.6" stroke-linecap="round"/>
<path d="M746.5,117.4 Q790,106 860.5,105.5 L860.5,121 Q790,121 749,131 Z" fill="#fff" stroke="#000" stroke-width="2.2" stroke-linejoin="round" stroke-linecap="round" />
<path d="M751.6,131 L751.6,121.5 Q795,111 856.5,110.5 L856.5,121" fill="none" stroke="#000" stroke-width="1.5" stroke-linejoin="round" stroke-linecap="round" />
<path d="M929,445 L991,469 L989,475 L934,450 Z" fill="#fff" stroke="#000" stroke-width="1.6" stroke-linejoin="round" stroke-linecap="round" />
<path d="M929,445 Q936,480 934.5,513" fill="none" stroke="#000" stroke-width="1.6" stroke-linejoin="round" stroke-linecap="round" />
<path d="M991,469 L1005,468 Q1016,528 1007,589 L993,590 Q1001,530 991,469 Z" fill="#fff" stroke="#000" stroke-width="1.8" stroke-linejoin="round" stroke-linecap="round" />
<path d="M995,474 Q1005,530 997,586" fill="none" stroke="#000" stroke-width="1.2" stroke-linejoin="round" stroke-linecap="round" />
<line x1="906.5" y1="390.0" x2="906.5" y2="492.0" stroke="#000" stroke-width="1.6" stroke-linecap="round"/>
<path d="M762,752 L842.5,745.5 L842.5,762 L764,768 Z" fill="#fff" stroke="#000" stroke-width="1.8" stroke-linejoin="round" stroke-linecap="round" />
<path d="M842.5,752 L850,750 Q856,752 858,757" fill="none" stroke="#000" stroke-width="1.6" stroke-linejoin="round" stroke-linecap="round" />
<line x1="690.0" y1="768.5" x2="762.0" y2="761.5" stroke="#000" stroke-width="1.8" stroke-linecap="round"/>
<line x1="700.0" y1="772.0" x2="762.0" y2="766.0" stroke="#000" stroke-width="1.4" stroke-linecap="round"/>
<path d="M2,992 L3,1008 Q5,1014 13,1015 L622,1076.6 Q631,1077 636,1072 L844,802 L837.7,792 Z" fill="#fff" stroke="#000" stroke-width="2.2" stroke-linejoin="round" stroke-linecap="round" />
<path d="M214,718.3 L832,782 Q840,783 837.7,792 L636,1053 Q630,1060.5 620,1060 L9,997 Q1,996 3,989 L207,722 Q209,719 214,718.3 Z" fill="#fff" stroke="#000" stroke-width="2.2" stroke-linejoin="round" stroke-linecap="round" />
<line x1="8.0" y1="1010.0" x2="622.0" y2="1072.0" stroke="#000" stroke-width="1.2" stroke-linecap="round"/>
<line x1="12.0" y1="1000.0" x2="620.0" y2="1063.0" stroke="#000" stroke-width="1.3" stroke-linecap="round"/>
<line x1="841.0" y1="797.0" x2="638.0" y2="1060.0" stroke="#000" stroke-width="1.3" stroke-linecap="round"/>
<line x1="621.0" y1="1061.0" x2="622.0" y2="1076.0" stroke="#000" stroke-width="1.3" stroke-linecap="round"/>
<line x1="634.0" y1="1057.0" x2="636.0" y2="1072.0" stroke="#000" stroke-width="1.3" stroke-linecap="round"/>
<rect x="46" y="1008" width="16" height="6" fill="#fff" stroke="#000" stroke-width="1.5" transform="rotate(6 46 1008)"/>
<rect x="306" y="1036" width="16" height="6" fill="#fff" stroke="#000" stroke-width="1.5" transform="rotate(6 306 1036)"/>
<rect x="568" y="1063" width="16" height="6" fill="#fff" stroke="#000" stroke-width="1.5" transform="rotate(6 568 1063)"/>
<rect x="818" y="816" width="5" height="12" fill="#fff" stroke="#000" stroke-width="1.4" transform="rotate(37 818 816)"/>
<rect x="762" y="892" width="5" height="12" fill="#fff" stroke="#000" stroke-width="1.4" transform="rotate(37 762 892)"/>
<rect x="708" y="963" width="5" height="12" fill="#fff" stroke="#000" stroke-width="1.4" transform="rotate(37 708 963)"/>
<rect x="656" y="1032" width="5" height="12" fill="#fff" stroke="#000" stroke-width="1.4" transform="rotate(37 656 1032)"/>
<path d="M722,950 L758,906 L764,911 L728,956 Z" fill="#fff" stroke="#000" stroke-width="1.6" stroke-linejoin="round" stroke-linecap="round" />
<ellipse cx="541.3" cy="902.2" rx="186.1" ry="97.1" fill="none" stroke="#000" stroke-width="2.2" transform="rotate(-9.3 541.3 902.2)"/>
<ellipse cx="543.6" cy="903.5" rx="177.0" ry="89.0" fill="none" stroke="#000" stroke-width="1.7" transform="rotate(-9.3 543.6 903.5)"/>
<ellipse cx="549.6" cy="939.0" rx="118.0" ry="57.8" fill="none" stroke="#000" stroke-width="2.6" transform="rotate(-11 549.6 939.0)"/>
<ellipse cx="548.6" cy="941.5" rx="100.0" ry="49.0" fill="none" stroke="#000" stroke-width="2.2" transform="rotate(-11 548.6 941.5)"/>
<path d="M462,915 Q520,885 600,887 Q640,890 646,915" fill="none" stroke="#000" stroke-width="1.3" stroke-linejoin="round" stroke-linecap="round" />
<path d="M461,927 L463,920 L475,918 L476,924" fill="#fff" stroke="#000" stroke-width="1.6" stroke-linejoin="round" stroke-linecap="round" />
<path d="M448,941 Q452,946 456,944" fill="none" stroke="#000" stroke-width="1.6" stroke-linejoin="round" stroke-linecap="round" /></svg></body></html>
